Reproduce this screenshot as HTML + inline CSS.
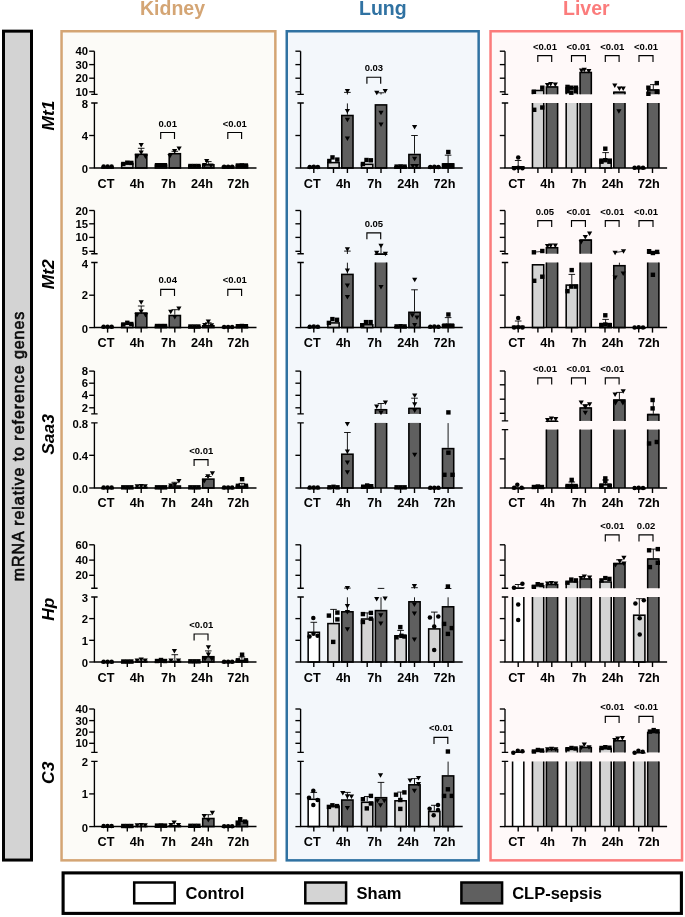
<!DOCTYPE html>
<html><head><meta charset="utf-8"><title>Figure</title>
<style>html,body{margin:0;padding:0;background:#fff}body{width:685px;height:917px;position:relative;overflow:hidden;font-family:'Liberation Sans', sans-serif}</style>
</head><body>
<svg width="685" height="917" viewBox="0 0 685 917" style="position:absolute;left:0;top:0;font-family:'Liberation Sans', sans-serif;font-weight:bold;will-change:transform;opacity:0.999">
<rect x="0" y="0" width="685" height="917" fill="#fff"/>
<rect x="3.5" y="31.15" width="28.0" height="828.9" fill="#D3D3D3" stroke="#000" stroke-width="3.0"/>
<text transform="translate(23.5,446) rotate(-90)" text-anchor="middle" font-size="16" font-weight="normal" letter-spacing="0.95" stroke="#0a0a0a" stroke-width="0.6" fill="#0a0a0a">mRNA relative to reference genes</text>
<rect x="63.1" y="872.9" width="618.3" height="40.5" fill="#fff" stroke="#000" stroke-width="3.1"/>
<rect x="134.2" y="882.5" width="40.5" height="20.8" fill="#fff" stroke="#000" stroke-width="2.5"/>
<text x="185.6" y="899.0" font-size="16.5" fill="#000">Control</text>
<rect x="305.3" y="882.5" width="40.80000000000001" height="20.8" fill="#D4D4D4" stroke="#000" stroke-width="2.5"/>
<text x="356.6" y="899.0" font-size="16.5" fill="#000">Sham</text>
<rect x="461.4" y="882.5" width="40.700000000000045" height="20.8" fill="#5F5F5F" stroke="#000" stroke-width="2.5"/>
<text x="512.2" y="899.0" font-size="16.5" fill="#000">CLP-sepsis</text>
<rect x="61.55" y="31.25" width="213.8" height="829.1" fill="#FCFBF7" stroke="#D4A574" stroke-width="2.5"/>
<text x="172.5" y="15.3" text-anchor="middle" font-size="19.5" fill="#D4A574">Kidney</text>
<g><rect x="101.98" y="167.4" width="11.25" height="0.6" fill="#FFFFFF" stroke="#000" stroke-width="1.55"/><rect x="121.68" y="163.5" width="11.25" height="4.5" fill="#D4D4D4" stroke="#000" stroke-width="1.55"/><rect x="135.58" y="154.3" width="11.25" height="13.7" fill="#5F5F5F" stroke="#000" stroke-width="1.55"/><rect x="155.38" y="165.1" width="11.25" height="2.9" fill="#D4D4D4" stroke="#000" stroke-width="1.55"/><rect x="169.18" y="153.7" width="11.25" height="14.3" fill="#5F5F5F" stroke="#000" stroke-width="1.55"/><rect x="188.78" y="165.6" width="11.25" height="2.4" fill="#D4D4D4" stroke="#000" stroke-width="1.55"/><rect x="202.68" y="164.8" width="11.25" height="3.2" fill="#5F5F5F" stroke="#000" stroke-width="1.55"/><rect x="222.47" y="166.6" width="11.25" height="1.4" fill="#D4D4D4" stroke="#000" stroke-width="1.55"/><rect x="236.28" y="165.4" width="11.25" height="2.6" fill="#5F5F5F" stroke="#000" stroke-width="1.55"/><path d="M141.2 153.5V148.3M137.9 148.3H144.5" stroke="#000" stroke-width="0.9" fill="none"/><path d="M174.8 152.9V151.3M171.5 151.3H178.1" stroke="#000" stroke-width="0.9" fill="none"/><path d="M208.3 164.0V161.6M205.0 161.6H211.6" stroke="#000" stroke-width="0.9" fill="none"/><circle cx="103.6" cy="166.6" r="2.25" fill="#000"/><circle cx="107.6" cy="166.6" r="2.25" fill="#000"/><circle cx="111.6" cy="166.6" r="2.25" fill="#000"/><rect x="121.1" y="161.8" width="4.4" height="4.4" fill="#000"/><rect x="125.1" y="160.5" width="4.4" height="4.4" fill="#000"/><rect x="129.1" y="160.7" width="4.4" height="4.4" fill="#000"/><path d="M138.6 143.0H143.8L141.2 147.5Z" fill="#000"/><path d="M134.4 154.5H139.6L137.0 159.0Z" fill="#000"/><path d="M142.9 154.5H148.1L145.5 159.0Z" fill="#000"/><path d="M138.6 150.5H143.8L141.2 155.0Z" fill="#000"/><rect x="154.8" y="163.0" width="4.4" height="4.4" fill="#000"/><rect x="158.8" y="163.0" width="4.4" height="4.4" fill="#000"/><rect x="162.8" y="163.0" width="4.4" height="4.4" fill="#000"/><path d="M172.0 148.9H177.2L174.6 153.4Z" fill="#000"/><path d="M176.5 146.6H181.7L179.1 151.1Z" fill="#000"/><path d="M167.4 154.0H172.6L170.0 158.5Z" fill="#000"/><rect x="188.2" y="163.8" width="4.4" height="4.4" fill="#000"/><rect x="192.2" y="163.8" width="4.4" height="4.4" fill="#000"/><rect x="196.2" y="163.8" width="4.4" height="4.4" fill="#000"/><path d="M204.1 159.0H209.3L206.7 163.5Z" fill="#000"/><path d="M201.9 163.0H207.1L204.5 167.5Z" fill="#000"/><path d="M208.4 163.5H213.6L211.0 168.0Z" fill="#000"/><circle cx="224.1" cy="166.8" r="2.25" fill="#000"/><circle cx="228.1" cy="166.8" r="2.25" fill="#000"/><circle cx="232.1" cy="166.8" r="2.25" fill="#000"/><rect x="235.7" y="163.3" width="4.4" height="4.4" fill="#000"/><rect x="239.7" y="163.1" width="4.4" height="4.4" fill="#000"/><rect x="243.7" y="163.3" width="4.4" height="4.4" fill="#000"/><path d="M94.4 51.2V94.3M91.2 94.3H97.6" stroke="#000" stroke-width="1.35" fill="none"/><path d="M94.4 103.0V168.0M91.2 103.0H97.6" stroke="#000" stroke-width="1.35" fill="none"/><path d="M89.2 51.2H94.4" stroke="#000" stroke-width="1.35"/><text x="88.1" y="55.2" text-anchor="end" font-size="11.3" fill="#000">40</text><path d="M89.2 64.6H94.4" stroke="#000" stroke-width="1.35"/><text x="88.1" y="68.6" text-anchor="end" font-size="11.3" fill="#000">30</text><path d="M89.2 78.2H94.4" stroke="#000" stroke-width="1.35"/><text x="88.1" y="82.2" text-anchor="end" font-size="11.3" fill="#000">20</text><path d="M89.2 91.8H94.4" stroke="#000" stroke-width="1.35"/><text x="88.1" y="95.8" text-anchor="end" font-size="11.3" fill="#000">10</text><text x="88.1" y="108.0" text-anchor="end" font-size="11.3" fill="#000">8</text><path d="M89.2 135.5H94.4" stroke="#000" stroke-width="1.35"/><text x="88.1" y="139.7" text-anchor="end" font-size="11.3" fill="#000">4</text><path d="M89.2 168.0H94.4" stroke="#000" stroke-width="1.35"/><text x="88.1" y="173.0" text-anchor="end" font-size="11.3" fill="#000">0</text><path d="M93.9 168.0H256.5" stroke="#000" stroke-width="1.5"/><text x="106.0" y="187.9" text-anchor="middle" font-size="12.7" fill="#000">CT</text><text x="137.1" y="187.9" text-anchor="middle" font-size="12.7" fill="#000">4h</text><text x="168.5" y="187.9" text-anchor="middle" font-size="12.7" fill="#000">7h</text><text x="202.0" y="187.9" text-anchor="middle" font-size="12.7" fill="#000">24h</text><text x="238.3" y="187.9" text-anchor="middle" font-size="12.7" fill="#000">72h</text><path d="M160.7 139.0V132.5H174.5V139.0" stroke="#000" stroke-width="1.15" fill="none"/><text x="167.7" y="126.5" text-anchor="middle" font-size="9.5" fill="#000">0.01</text><path d="M227.8 139.0V132.5H241.6V139.0" stroke="#000" stroke-width="1.15" fill="none"/><text x="234.8" y="126.5" text-anchor="middle" font-size="9.5" fill="#000">&lt;0.01</text></g>
<g><rect x="101.98" y="327.3" width="11.25" height="0.3" fill="#FFFFFF" stroke="#000" stroke-width="1.55"/><rect x="121.68" y="324.1" width="11.25" height="3.5" fill="#D4D4D4" stroke="#000" stroke-width="1.55"/><rect x="135.58" y="313.0" width="11.25" height="14.6" fill="#5F5F5F" stroke="#000" stroke-width="1.55"/><rect x="155.38" y="326.4" width="11.25" height="1.2" fill="#D4D4D4" stroke="#000" stroke-width="1.55"/><rect x="169.18" y="315.5" width="11.25" height="12.1" fill="#5F5F5F" stroke="#000" stroke-width="1.55"/><rect x="188.78" y="326.8" width="11.25" height="0.8" fill="#D4D4D4" stroke="#000" stroke-width="1.55"/><rect x="202.68" y="325.8" width="11.25" height="1.8" fill="#5F5F5F" stroke="#000" stroke-width="1.55"/><rect x="222.47" y="327.3" width="11.25" height="0.3" fill="#D4D4D4" stroke="#000" stroke-width="1.55"/><rect x="236.28" y="326.8" width="11.25" height="0.8" fill="#5F5F5F" stroke="#000" stroke-width="1.55"/><path d="M141.2 312.2V306.0M137.9 306.0H144.5" stroke="#000" stroke-width="0.9" fill="none"/><path d="M174.8 314.7V309.7M171.5 309.7H178.1" stroke="#000" stroke-width="0.9" fill="none"/><path d="M208.3 325.0V322.8M205.0 322.8H211.6" stroke="#000" stroke-width="0.9" fill="none"/><circle cx="103.6" cy="326.7" r="2.25" fill="#000"/><circle cx="107.6" cy="326.7" r="2.25" fill="#000"/><circle cx="111.6" cy="326.7" r="2.25" fill="#000"/><rect x="121.1" y="322.3" width="4.4" height="4.4" fill="#000"/><rect x="125.1" y="320.6" width="4.4" height="4.4" fill="#000"/><rect x="129.1" y="321.8" width="4.4" height="4.4" fill="#000"/><path d="M138.6 300.3H143.8L141.2 304.8Z" fill="#000"/><path d="M134.4 313.0H139.6L137.0 317.5Z" fill="#000"/><path d="M142.9 313.0H148.1L145.5 317.5Z" fill="#000"/><path d="M138.6 309.5H143.8L141.2 314.0Z" fill="#000"/><rect x="154.8" y="323.8" width="4.4" height="4.4" fill="#000"/><rect x="158.8" y="323.8" width="4.4" height="4.4" fill="#000"/><rect x="162.8" y="323.8" width="4.4" height="4.4" fill="#000"/><path d="M168.1 309.7H173.3L170.7 314.2Z" fill="#000"/><path d="M176.3 306.5H181.5L178.9 311.0Z" fill="#000"/><path d="M172.2 315.0H177.4L174.8 319.5Z" fill="#000"/><rect x="188.2" y="324.3" width="4.4" height="4.4" fill="#000"/><rect x="192.2" y="324.3" width="4.4" height="4.4" fill="#000"/><rect x="196.2" y="324.3" width="4.4" height="4.4" fill="#000"/><path d="M205.7 319.6H210.9L208.3 324.1Z" fill="#000"/><path d="M202.2 323.0H207.4L204.8 327.5Z" fill="#000"/><path d="M208.9 323.3H214.1L211.5 327.8Z" fill="#000"/><circle cx="224.1" cy="327.0" r="2.25" fill="#000"/><circle cx="228.1" cy="327.0" r="2.25" fill="#000"/><circle cx="232.1" cy="327.0" r="2.25" fill="#000"/><rect x="235.7" y="324.0" width="4.4" height="4.4" fill="#000"/><rect x="239.7" y="323.8" width="4.4" height="4.4" fill="#000"/><rect x="243.7" y="324.0" width="4.4" height="4.4" fill="#000"/><path d="M94.4 210.5V253.7M91.2 253.7H97.6" stroke="#000" stroke-width="1.35" fill="none"/><path d="M94.4 262.5V327.6M91.2 262.5H97.6" stroke="#000" stroke-width="1.35" fill="none"/><path d="M89.2 210.5H94.4" stroke="#000" stroke-width="1.35"/><text x="88.1" y="214.5" text-anchor="end" font-size="11.3" fill="#000">20</text><path d="M89.2 223.8H94.4" stroke="#000" stroke-width="1.35"/><text x="88.1" y="227.8" text-anchor="end" font-size="11.3" fill="#000">15</text><path d="M89.2 237.4H94.4" stroke="#000" stroke-width="1.35"/><text x="88.1" y="241.4" text-anchor="end" font-size="11.3" fill="#000">10</text><path d="M89.2 251.3H94.4" stroke="#000" stroke-width="1.35"/><text x="88.1" y="255.3" text-anchor="end" font-size="11.3" fill="#000">5</text><text x="88.1" y="267.5" text-anchor="end" font-size="11.3" fill="#000">4</text><path d="M89.2 295.2H94.4" stroke="#000" stroke-width="1.35"/><text x="88.1" y="299.4" text-anchor="end" font-size="11.3" fill="#000">2</text><path d="M89.2 327.6H94.4" stroke="#000" stroke-width="1.35"/><text x="88.1" y="332.6" text-anchor="end" font-size="11.3" fill="#000">0</text><path d="M93.9 327.6H256.5" stroke="#000" stroke-width="1.5"/><path d="M107.6 327.6v5.0" stroke="#000" stroke-width="1.4"/><path d="M127.3 327.6v5.0" stroke="#000" stroke-width="1.4"/><path d="M141.2 327.6v5.0" stroke="#000" stroke-width="1.4"/><path d="M161.0 327.6v5.0" stroke="#000" stroke-width="1.4"/><path d="M174.8 327.6v5.0" stroke="#000" stroke-width="1.4"/><path d="M194.4 327.6v5.0" stroke="#000" stroke-width="1.4"/><path d="M208.3 327.6v5.0" stroke="#000" stroke-width="1.4"/><path d="M228.1 327.6v5.0" stroke="#000" stroke-width="1.4"/><path d="M241.9 327.6v5.0" stroke="#000" stroke-width="1.4"/><text x="106.0" y="347.4" text-anchor="middle" font-size="12.7" fill="#000">CT</text><text x="137.1" y="347.4" text-anchor="middle" font-size="12.7" fill="#000">4h</text><text x="168.5" y="347.4" text-anchor="middle" font-size="12.7" fill="#000">7h</text><text x="202.0" y="347.4" text-anchor="middle" font-size="12.7" fill="#000">24h</text><text x="238.3" y="347.4" text-anchor="middle" font-size="12.7" fill="#000">72h</text><path d="M160.7 295.9V289.4H174.5V295.9" stroke="#000" stroke-width="1.15" fill="none"/><text x="167.7" y="283.4" text-anchor="middle" font-size="9.5" fill="#000">0.04</text><path d="M227.8 295.9V289.4H241.6V295.9" stroke="#000" stroke-width="1.15" fill="none"/><text x="234.8" y="283.4" text-anchor="middle" font-size="9.5" fill="#000">&lt;0.01</text></g>
<g><rect x="101.98" y="488.3" width="11.25" height="0.3" fill="#FFFFFF" stroke="#000" stroke-width="1.55"/><rect x="121.68" y="488.1" width="11.25" height="0.3" fill="#D4D4D4" stroke="#000" stroke-width="1.55"/><rect x="135.58" y="487.3" width="11.25" height="0.7" fill="#5F5F5F" stroke="#000" stroke-width="1.55"/><rect x="155.38" y="488.1" width="11.25" height="0.3" fill="#D4D4D4" stroke="#000" stroke-width="1.55"/><rect x="169.18" y="486.0" width="11.25" height="2.0" fill="#5F5F5F" stroke="#000" stroke-width="1.55"/><rect x="188.78" y="488.1" width="11.25" height="0.3" fill="#D4D4D4" stroke="#000" stroke-width="1.55"/><rect x="202.68" y="479.1" width="11.25" height="8.9" fill="#5F5F5F" stroke="#000" stroke-width="1.55"/><rect x="222.47" y="488.3" width="11.25" height="0.3" fill="#D4D4D4" stroke="#000" stroke-width="1.55"/><rect x="236.28" y="486.3" width="11.25" height="1.7" fill="#5F5F5F" stroke="#000" stroke-width="1.55"/><path d="M174.8 485.2V482.3M171.5 482.3H178.1" stroke="#000" stroke-width="0.9" fill="none"/><path d="M208.3 478.3V476.5M205.0 476.5H211.6" stroke="#000" stroke-width="0.9" fill="none"/><path d="M241.9 485.5V483.4M238.6 483.4H245.2" stroke="#000" stroke-width="0.9" fill="none"/><circle cx="103.6" cy="487.4" r="2.25" fill="#000"/><circle cx="107.6" cy="487.4" r="2.25" fill="#000"/><circle cx="111.6" cy="487.4" r="2.25" fill="#000"/><rect x="121.1" y="485.1" width="4.4" height="4.4" fill="#000"/><rect x="125.1" y="485.1" width="4.4" height="4.4" fill="#000"/><rect x="129.1" y="485.1" width="4.4" height="4.4" fill="#000"/><path d="M134.6 484.3H139.8L137.2 488.8Z" fill="#000"/><path d="M138.6 484.0H143.8L141.2 488.5Z" fill="#000"/><path d="M142.6 484.3H147.8L145.2 488.8Z" fill="#000"/><rect x="154.8" y="485.1" width="4.4" height="4.4" fill="#000"/><rect x="158.8" y="485.1" width="4.4" height="4.4" fill="#000"/><rect x="162.8" y="485.1" width="4.4" height="4.4" fill="#000"/><path d="M168.2 483.5H173.4L170.8 488.0Z" fill="#000"/><path d="M172.2 483.0H177.4L174.8 487.5Z" fill="#000"/><path d="M176.3 478.9H181.5L178.9 483.4Z" fill="#000"/><rect x="188.2" y="485.1" width="4.4" height="4.4" fill="#000"/><rect x="192.2" y="485.1" width="4.4" height="4.4" fill="#000"/><rect x="196.2" y="485.1" width="4.4" height="4.4" fill="#000"/><path d="M205.3 474.3H210.5L207.9 478.8Z" fill="#000"/><path d="M209.8 471.2H215.0L212.4 475.7Z" fill="#000"/><path d="M201.7 479.0H206.9L204.3 483.5Z" fill="#000"/><circle cx="224.1" cy="487.4" r="2.25" fill="#000"/><circle cx="228.1" cy="487.4" r="2.25" fill="#000"/><circle cx="232.1" cy="487.4" r="2.25" fill="#000"/><rect x="235.7" y="483.6" width="4.4" height="4.4" fill="#000"/><rect x="243.7" y="483.6" width="4.4" height="4.4" fill="#000"/><rect x="239.9" y="477.0" width="4.4" height="4.4" fill="#000"/><path d="M94.4 371.1V413.9M91.2 413.9H97.6" stroke="#000" stroke-width="1.35" fill="none"/><path d="M94.4 422.9V488.0M91.2 422.9H97.6" stroke="#000" stroke-width="1.35" fill="none"/><path d="M89.2 371.1H94.4" stroke="#000" stroke-width="1.35"/><text x="88.1" y="375.1" text-anchor="end" font-size="11.3" fill="#000">8</text><path d="M89.2 383.2H94.4" stroke="#000" stroke-width="1.35"/><text x="88.1" y="387.2" text-anchor="end" font-size="11.3" fill="#000">6</text><path d="M89.2 395.3H94.4" stroke="#000" stroke-width="1.35"/><text x="88.1" y="399.3" text-anchor="end" font-size="11.3" fill="#000">4</text><path d="M89.2 407.8H94.4" stroke="#000" stroke-width="1.35"/><text x="88.1" y="411.8" text-anchor="end" font-size="11.3" fill="#000">2</text><text x="88.1" y="427.9" text-anchor="end" font-size="11.3" fill="#000">0.8</text><path d="M89.2 455.3H94.4" stroke="#000" stroke-width="1.35"/><text x="88.1" y="459.5" text-anchor="end" font-size="11.3" fill="#000">0.4</text><path d="M89.2 488.0H94.4" stroke="#000" stroke-width="1.35"/><text x="88.1" y="493.0" text-anchor="end" font-size="11.3" fill="#000">0.0</text><path d="M93.9 488.0H256.5" stroke="#000" stroke-width="1.5"/><path d="M107.6 488.0v5.0" stroke="#000" stroke-width="1.4"/><path d="M127.3 488.0v5.0" stroke="#000" stroke-width="1.4"/><path d="M141.2 488.0v5.0" stroke="#000" stroke-width="1.4"/><path d="M161.0 488.0v5.0" stroke="#000" stroke-width="1.4"/><path d="M174.8 488.0v5.0" stroke="#000" stroke-width="1.4"/><path d="M194.4 488.0v5.0" stroke="#000" stroke-width="1.4"/><path d="M208.3 488.0v5.0" stroke="#000" stroke-width="1.4"/><path d="M228.1 488.0v5.0" stroke="#000" stroke-width="1.4"/><path d="M241.9 488.0v5.0" stroke="#000" stroke-width="1.4"/><text x="106.0" y="507.4" text-anchor="middle" font-size="12.7" fill="#000">CT</text><text x="137.1" y="507.4" text-anchor="middle" font-size="12.7" fill="#000">4h</text><text x="168.5" y="507.4" text-anchor="middle" font-size="12.7" fill="#000">7h</text><text x="202.0" y="507.4" text-anchor="middle" font-size="12.7" fill="#000">24h</text><text x="238.3" y="507.4" text-anchor="middle" font-size="12.7" fill="#000">72h</text><path d="M194.1 466.1V459.6H208.0V466.1" stroke="#000" stroke-width="1.15" fill="none"/><text x="201.2" y="453.6" text-anchor="middle" font-size="9.5" fill="#000">&lt;0.01</text></g>
<g><rect x="101.98" y="662.3" width="11.25" height="0.3" fill="#FFFFFF" stroke="#000" stroke-width="1.55"/><rect x="121.68" y="662.3" width="11.25" height="0.3" fill="#D4D4D4" stroke="#000" stroke-width="1.55"/><rect x="135.58" y="661.3" width="11.25" height="0.7" fill="#5F5F5F" stroke="#000" stroke-width="1.55"/><rect x="155.38" y="661.8" width="11.25" height="0.3" fill="#D4D4D4" stroke="#000" stroke-width="1.55"/><rect x="169.18" y="661.3" width="11.25" height="0.7" fill="#5F5F5F" stroke="#000" stroke-width="1.55"/><rect x="188.78" y="662.1" width="11.25" height="0.3" fill="#D4D4D4" stroke="#000" stroke-width="1.55"/><rect x="202.68" y="656.7" width="11.25" height="5.3" fill="#5F5F5F" stroke="#000" stroke-width="1.55"/><rect x="222.47" y="662.3" width="11.25" height="0.3" fill="#D4D4D4" stroke="#000" stroke-width="1.55"/><rect x="236.28" y="660.4" width="11.25" height="1.6" fill="#5F5F5F" stroke="#000" stroke-width="1.55"/><path d="M174.8 660.5V654.7M171.5 654.7H178.1" stroke="#000" stroke-width="0.9" fill="none"/><path d="M208.3 655.9V650.9M205.0 650.9H211.6" stroke="#000" stroke-width="0.9" fill="none"/><path d="M241.9 659.6V657.0M238.6 657.0H245.2" stroke="#000" stroke-width="0.9" fill="none"/><circle cx="103.6" cy="661.7" r="2.25" fill="#000"/><circle cx="107.6" cy="661.7" r="2.25" fill="#000"/><circle cx="111.6" cy="661.7" r="2.25" fill="#000"/><rect x="121.1" y="659.3" width="4.4" height="4.4" fill="#000"/><rect x="125.1" y="659.3" width="4.4" height="4.4" fill="#000"/><rect x="129.1" y="659.3" width="4.4" height="4.4" fill="#000"/><path d="M134.6 658.5H139.8L137.2 663.0Z" fill="#000"/><path d="M138.6 657.6H143.8L141.2 662.1Z" fill="#000"/><path d="M142.6 658.5H147.8L145.2 663.0Z" fill="#000"/><rect x="154.8" y="658.8" width="4.4" height="4.4" fill="#000"/><rect x="158.8" y="657.8" width="4.4" height="4.4" fill="#000"/><rect x="162.8" y="658.8" width="4.4" height="4.4" fill="#000"/><path d="M171.8 649.0H177.0L174.4 653.5Z" fill="#000"/><path d="M168.4 658.5H173.6L171.0 663.0Z" fill="#000"/><path d="M175.9 658.5H181.1L178.5 663.0Z" fill="#000"/><rect x="188.2" y="659.1" width="4.4" height="4.4" fill="#000"/><rect x="192.2" y="659.1" width="4.4" height="4.4" fill="#000"/><rect x="196.2" y="659.1" width="4.4" height="4.4" fill="#000"/><path d="M205.8 645.2H211.0L208.4 649.7Z" fill="#000"/><path d="M205.8 652.5H211.0L208.4 657.0Z" fill="#000"/><path d="M202.4 657.0H207.6L205.0 661.5Z" fill="#000"/><path d="M209.2 657.0H214.4L211.8 661.5Z" fill="#000"/><circle cx="224.1" cy="661.7" r="2.25" fill="#000"/><circle cx="228.1" cy="661.7" r="2.25" fill="#000"/><circle cx="232.1" cy="661.7" r="2.25" fill="#000"/><rect x="235.7" y="658.1" width="4.4" height="4.4" fill="#000"/><rect x="243.7" y="658.1" width="4.4" height="4.4" fill="#000"/><rect x="239.9" y="652.5" width="4.4" height="4.4" fill="#000"/><path d="M94.4 544.8V588.2M91.2 588.2H97.6" stroke="#000" stroke-width="1.35" fill="none"/><path d="M94.4 597.0V662.0M91.2 597.0H97.6" stroke="#000" stroke-width="1.35" fill="none"/><path d="M89.2 544.8H94.4" stroke="#000" stroke-width="1.35"/><text x="88.1" y="548.8" text-anchor="end" font-size="11.3" fill="#000">60</text><path d="M89.2 560.1H94.4" stroke="#000" stroke-width="1.35"/><text x="88.1" y="564.1" text-anchor="end" font-size="11.3" fill="#000">40</text><path d="M89.2 575.3H94.4" stroke="#000" stroke-width="1.35"/><text x="88.1" y="579.3" text-anchor="end" font-size="11.3" fill="#000">20</text><text x="88.1" y="602.0" text-anchor="end" font-size="11.3" fill="#000">3</text><path d="M89.2 618.6H94.4" stroke="#000" stroke-width="1.35"/><text x="88.1" y="622.8" text-anchor="end" font-size="11.3" fill="#000">2</text><path d="M89.2 640.3H94.4" stroke="#000" stroke-width="1.35"/><text x="88.1" y="644.5" text-anchor="end" font-size="11.3" fill="#000">1</text><path d="M89.2 662.0H94.4" stroke="#000" stroke-width="1.35"/><text x="88.1" y="667.0" text-anchor="end" font-size="11.3" fill="#000">0</text><path d="M93.9 662.0H256.5" stroke="#000" stroke-width="1.5"/><path d="M107.6 662.0v5.0" stroke="#000" stroke-width="1.4"/><path d="M127.3 662.0v5.0" stroke="#000" stroke-width="1.4"/><path d="M141.2 662.0v5.0" stroke="#000" stroke-width="1.4"/><path d="M161.0 662.0v5.0" stroke="#000" stroke-width="1.4"/><path d="M174.8 662.0v5.0" stroke="#000" stroke-width="1.4"/><path d="M194.4 662.0v5.0" stroke="#000" stroke-width="1.4"/><path d="M208.3 662.0v5.0" stroke="#000" stroke-width="1.4"/><path d="M228.1 662.0v5.0" stroke="#000" stroke-width="1.4"/><path d="M241.9 662.0v5.0" stroke="#000" stroke-width="1.4"/><text x="106.0" y="682.4" text-anchor="middle" font-size="12.7" fill="#000">CT</text><text x="137.1" y="682.4" text-anchor="middle" font-size="12.7" fill="#000">4h</text><text x="168.5" y="682.4" text-anchor="middle" font-size="12.7" fill="#000">7h</text><text x="202.0" y="682.4" text-anchor="middle" font-size="12.7" fill="#000">24h</text><text x="238.3" y="682.4" text-anchor="middle" font-size="12.7" fill="#000">72h</text><path d="M194.1 640.5V634.0H208.0V640.5" stroke="#000" stroke-width="1.15" fill="none"/><text x="201.2" y="628.0" text-anchor="middle" font-size="9.5" fill="#000">&lt;0.01</text></g>
<g><rect x="101.98" y="826.8" width="11.25" height="0.3" fill="#FFFFFF" stroke="#000" stroke-width="1.55"/><rect x="121.68" y="826.8" width="11.25" height="0.3" fill="#D4D4D4" stroke="#000" stroke-width="1.55"/><rect x="135.58" y="826.3" width="11.25" height="0.3" fill="#5F5F5F" stroke="#000" stroke-width="1.55"/><rect x="155.38" y="826.6" width="11.25" height="0.3" fill="#D4D4D4" stroke="#000" stroke-width="1.55"/><rect x="169.18" y="825.8" width="11.25" height="0.8" fill="#5F5F5F" stroke="#000" stroke-width="1.55"/><rect x="188.78" y="826.6" width="11.25" height="0.3" fill="#D4D4D4" stroke="#000" stroke-width="1.55"/><rect x="202.68" y="818.5" width="11.25" height="8.1" fill="#5F5F5F" stroke="#000" stroke-width="1.55"/><rect x="222.47" y="826.8" width="11.25" height="0.3" fill="#D4D4D4" stroke="#000" stroke-width="1.55"/><rect x="236.28" y="821.2" width="11.25" height="5.4" fill="#5F5F5F" stroke="#000" stroke-width="1.55"/><path d="M208.3 817.7V814.7M205.0 814.7H211.6" stroke="#000" stroke-width="0.9" fill="none"/><circle cx="103.6" cy="826.1" r="2.25" fill="#000"/><circle cx="107.6" cy="826.1" r="2.25" fill="#000"/><circle cx="111.6" cy="826.1" r="2.25" fill="#000"/><rect x="121.1" y="823.8" width="4.4" height="4.4" fill="#000"/><rect x="125.1" y="823.8" width="4.4" height="4.4" fill="#000"/><rect x="129.1" y="823.8" width="4.4" height="4.4" fill="#000"/><path d="M134.6 823.3H139.8L137.2 827.8Z" fill="#000"/><path d="M138.6 823.0H143.8L141.2 827.5Z" fill="#000"/><path d="M142.6 823.3H147.8L145.2 827.8Z" fill="#000"/><rect x="154.8" y="823.4" width="4.4" height="4.4" fill="#000"/><rect x="158.8" y="823.2" width="4.4" height="4.4" fill="#000"/><rect x="162.8" y="823.4" width="4.4" height="4.4" fill="#000"/><path d="M171.5 820.6H176.7L174.1 825.1Z" fill="#000"/><path d="M168.4 823.0H173.6L171.0 827.5Z" fill="#000"/><path d="M175.9 823.0H181.1L178.5 827.5Z" fill="#000"/><rect x="188.2" y="823.6" width="4.4" height="4.4" fill="#000"/><rect x="192.2" y="823.6" width="4.4" height="4.4" fill="#000"/><rect x="196.2" y="823.6" width="4.4" height="4.4" fill="#000"/><path d="M201.6 814.0H206.8L204.2 818.5Z" fill="#000"/><path d="M209.8 810.7H215.0L212.4 815.2Z" fill="#000"/><path d="M205.7 818.0H210.9L208.3 822.5Z" fill="#000"/><circle cx="224.1" cy="826.2" r="2.25" fill="#000"/><circle cx="228.1" cy="826.2" r="2.25" fill="#000"/><circle cx="232.1" cy="826.2" r="2.25" fill="#000"/><rect x="238.0" y="817.0" width="4.4" height="4.4" fill="#000"/><rect x="242.8" y="819.4" width="4.4" height="4.4" fill="#000"/><rect x="236.3" y="821.3" width="4.4" height="4.4" fill="#000"/><path d="M94.4 709.0V752.4M91.2 752.4H97.6" stroke="#000" stroke-width="1.35" fill="none"/><path d="M94.4 761.4V826.6M91.2 761.4H97.6" stroke="#000" stroke-width="1.35" fill="none"/><path d="M89.2 709.0H94.4" stroke="#000" stroke-width="1.35"/><text x="88.1" y="713.0" text-anchor="end" font-size="11.3" fill="#000">40</text><path d="M89.2 720.6H94.4" stroke="#000" stroke-width="1.35"/><text x="88.1" y="724.6" text-anchor="end" font-size="11.3" fill="#000">30</text><path d="M89.2 732.1H94.4" stroke="#000" stroke-width="1.35"/><text x="88.1" y="736.1" text-anchor="end" font-size="11.3" fill="#000">20</text><path d="M89.2 743.3H94.4" stroke="#000" stroke-width="1.35"/><text x="88.1" y="747.3" text-anchor="end" font-size="11.3" fill="#000">10</text><text x="88.1" y="766.4" text-anchor="end" font-size="11.3" fill="#000">2</text><path d="M89.2 793.9H94.4" stroke="#000" stroke-width="1.35"/><text x="88.1" y="798.1" text-anchor="end" font-size="11.3" fill="#000">1</text><path d="M89.2 826.6H94.4" stroke="#000" stroke-width="1.35"/><text x="88.1" y="831.6" text-anchor="end" font-size="11.3" fill="#000">0</text><path d="M93.9 826.6H256.5" stroke="#000" stroke-width="1.5"/><path d="M107.6 826.6v5.0" stroke="#000" stroke-width="1.4"/><path d="M127.3 826.6v5.0" stroke="#000" stroke-width="1.4"/><path d="M141.2 826.6v5.0" stroke="#000" stroke-width="1.4"/><path d="M161.0 826.6v5.0" stroke="#000" stroke-width="1.4"/><path d="M174.8 826.6v5.0" stroke="#000" stroke-width="1.4"/><path d="M194.4 826.6v5.0" stroke="#000" stroke-width="1.4"/><path d="M208.3 826.6v5.0" stroke="#000" stroke-width="1.4"/><path d="M228.1 826.6v5.0" stroke="#000" stroke-width="1.4"/><path d="M241.9 826.6v5.0" stroke="#000" stroke-width="1.4"/><text x="106.0" y="846.1" text-anchor="middle" font-size="12.7" fill="#000">CT</text><text x="137.1" y="846.1" text-anchor="middle" font-size="12.7" fill="#000">4h</text><text x="168.5" y="846.1" text-anchor="middle" font-size="12.7" fill="#000">7h</text><text x="202.0" y="846.1" text-anchor="middle" font-size="12.7" fill="#000">24h</text><text x="238.3" y="846.1" text-anchor="middle" font-size="12.7" fill="#000">72h</text></g>
<rect x="286.75" y="31.25" width="191.89999999999998" height="829.1" fill="#F3F7FB" stroke="#3072A2" stroke-width="2.5"/>
<text x="382.8" y="15.3" text-anchor="middle" font-size="19.5" fill="#3072A2">Lung</text>
<g><rect x="308.17" y="167.4" width="11.25" height="0.6" fill="#FFFFFF" stroke="#000" stroke-width="1.55"/><rect x="327.88" y="162.6" width="11.25" height="5.4" fill="#D4D4D4" stroke="#000" stroke-width="1.55"/><rect x="341.77" y="115.5" width="11.25" height="52.5" fill="#5F5F5F" stroke="#000" stroke-width="1.55"/><rect x="361.57" y="164.3" width="11.25" height="3.7" fill="#D4D4D4" stroke="#000" stroke-width="1.55"/><rect x="375.38" y="104.9" width="11.25" height="63.1" fill="#5F5F5F" stroke="#000" stroke-width="1.55"/><rect x="394.97" y="166.8" width="11.25" height="1.2" fill="#D4D4D4" stroke="#000" stroke-width="1.55"/><rect x="408.88" y="154.5" width="11.25" height="13.5" fill="#5F5F5F" stroke="#000" stroke-width="1.55"/><rect x="428.67" y="167.1" width="11.25" height="0.9" fill="#D4D4D4" stroke="#000" stroke-width="1.55"/><rect x="442.47" y="164.0" width="11.25" height="4.0" fill="#5F5F5F" stroke="#000" stroke-width="1.55"/><path d="M347.4 114.7V103.4" stroke="#000" stroke-width="0.9" fill="none"/><path d="M347.4 94.5V92.4M344.1 92.4H350.7" stroke="#000" stroke-width="0.9" fill="none"/><path d="M381.0 94.5V92.8M377.7 92.8H384.3" stroke="#000" stroke-width="0.9" fill="none"/><path d="M414.5 153.7V135.5M411.2 135.5H417.8" stroke="#000" stroke-width="0.9" fill="none"/><path d="M448.1 163.2V155.2M444.8 155.2H451.4" stroke="#000" stroke-width="0.9" fill="none"/><circle cx="309.8" cy="166.9" r="2.25" fill="#000"/><circle cx="313.8" cy="166.7" r="2.25" fill="#000"/><circle cx="317.8" cy="166.9" r="2.25" fill="#000"/><rect x="327.1" y="158.8" width="4.4" height="4.4" fill="#000"/><rect x="330.3" y="155.2" width="4.4" height="4.4" fill="#000"/><rect x="335.1" y="157.4" width="4.4" height="4.4" fill="#000"/><path d="M344.8 109.1H350.0L347.4 113.6Z" fill="#000"/><path d="M344.8 88.9H350.0L347.4 93.4Z" fill="#000"/><path d="M344.8 117.7H350.0L347.4 122.2Z" fill="#000"/><path d="M344.8 136.4H350.0L347.4 140.9Z" fill="#000"/><rect x="360.7" y="161.8" width="4.4" height="4.4" fill="#000"/><rect x="364.3" y="157.8" width="4.4" height="4.4" fill="#000"/><rect x="368.7" y="158.1" width="4.4" height="4.4" fill="#000"/><path d="M374.2 90.8H379.4L376.8 95.3Z" fill="#000"/><path d="M382.6 88.9H387.8L385.2 93.4Z" fill="#000"/><path d="M378.4 110.8H383.6L381.0 115.3Z" fill="#000"/><path d="M378.4 122.5H383.6L381.0 127.0Z" fill="#000"/><rect x="394.4" y="164.4" width="4.4" height="4.4" fill="#000"/><rect x="398.4" y="164.2" width="4.4" height="4.4" fill="#000"/><rect x="402.4" y="164.4" width="4.4" height="4.4" fill="#000"/><path d="M412.0 125.0H417.2L414.6 129.5Z" fill="#000"/><path d="M412.0 156.8H417.2L414.6 161.3Z" fill="#000"/><path d="M410.2 164.0H415.4L412.8 168.5Z" fill="#000"/><path d="M413.9 164.0H419.1L416.5 168.5Z" fill="#000"/><circle cx="430.3" cy="166.9" r="2.25" fill="#000"/><circle cx="434.3" cy="166.7" r="2.25" fill="#000"/><circle cx="438.3" cy="166.9" r="2.25" fill="#000"/><rect x="446.1" y="149.8" width="4.4" height="4.4" fill="#000"/><rect x="442.3" y="163.1" width="4.4" height="4.4" fill="#000"/><rect x="445.9" y="163.1" width="4.4" height="4.4" fill="#000"/><rect x="449.8" y="163.1" width="4.4" height="4.4" fill="#000"/><path d="M300.6 51.2V94.3M297.4 94.3H303.8" stroke="#000" stroke-width="1.35" fill="none"/><path d="M300.6 103.0V168.0M297.4 103.0H303.8" stroke="#000" stroke-width="1.35" fill="none"/><path d="M295.4 51.2H300.6" stroke="#000" stroke-width="1.35"/><path d="M295.4 64.6H300.6" stroke="#000" stroke-width="1.35"/><path d="M295.4 78.2H300.6" stroke="#000" stroke-width="1.35"/><path d="M295.4 91.8H300.6" stroke="#000" stroke-width="1.35"/><path d="M295.4 135.5H300.6" stroke="#000" stroke-width="1.35"/><path d="M295.4 168.0H300.6" stroke="#000" stroke-width="1.35"/><path d="M300.1 168.0H462.7" stroke="#000" stroke-width="1.5"/><path d="M313.8 168.0v5.0" stroke="#000" stroke-width="1.4"/><path d="M333.5 168.0v5.0" stroke="#000" stroke-width="1.4"/><path d="M347.4 168.0v5.0" stroke="#000" stroke-width="1.4"/><path d="M367.2 168.0v5.0" stroke="#000" stroke-width="1.4"/><path d="M381.0 168.0v5.0" stroke="#000" stroke-width="1.4"/><path d="M400.6 168.0v5.0" stroke="#000" stroke-width="1.4"/><path d="M414.5 168.0v5.0" stroke="#000" stroke-width="1.4"/><path d="M434.3 168.0v5.0" stroke="#000" stroke-width="1.4"/><path d="M448.1 168.0v5.0" stroke="#000" stroke-width="1.4"/><text x="312.2" y="187.9" text-anchor="middle" font-size="12.7" fill="#000">CT</text><text x="343.3" y="187.9" text-anchor="middle" font-size="12.7" fill="#000">4h</text><text x="374.7" y="187.9" text-anchor="middle" font-size="12.7" fill="#000">7h</text><text x="408.2" y="187.9" text-anchor="middle" font-size="12.7" fill="#000">24h</text><text x="444.5" y="187.9" text-anchor="middle" font-size="12.7" fill="#000">72h</text><path d="M366.9 83.7V77.2H380.7V83.7" stroke="#000" stroke-width="1.15" fill="none"/><text x="373.9" y="71.2" text-anchor="middle" font-size="9.5" fill="#000">0.03</text></g>
<g><rect x="308.17" y="327.3" width="11.25" height="0.3" fill="#FFFFFF" stroke="#000" stroke-width="1.55"/><rect x="327.88" y="322.9" width="11.25" height="4.7" fill="#D4D4D4" stroke="#000" stroke-width="1.55"/><rect x="341.77" y="274.4" width="11.25" height="53.2" fill="#5F5F5F" stroke="#000" stroke-width="1.55"/><rect x="361.57" y="324.8" width="11.25" height="2.8" fill="#D4D4D4" stroke="#000" stroke-width="1.55"/><rect x="375.38" y="262.5" width="11.25" height="65.1" fill="#5F5F5F"/><path d="M375.38 262.5V327.6M386.63 262.5V327.6" stroke="#000" stroke-width="1.55" fill="none"/><rect x="375.38" y="253.3" width="11.25" height="0.4" fill="#5F5F5F"/><path d="M375.38 253.7V254.1H386.63V253.7" stroke="#000" stroke-width="1.55" fill="none"/><rect x="394.97" y="326.8" width="11.25" height="0.8" fill="#D4D4D4" stroke="#000" stroke-width="1.55"/><rect x="408.88" y="312.3" width="11.25" height="15.3" fill="#5F5F5F" stroke="#000" stroke-width="1.55"/><rect x="428.67" y="327.1" width="11.25" height="0.5" fill="#D4D4D4" stroke="#000" stroke-width="1.55"/><rect x="442.47" y="324.8" width="11.25" height="2.8" fill="#5F5F5F" stroke="#000" stroke-width="1.55"/><path d="M347.4 273.6V262.7" stroke="#000" stroke-width="0.9" fill="none"/><path d="M347.4 254.0V251.1M344.1 251.1H350.7" stroke="#000" stroke-width="0.9" fill="none"/><path d="M381.0 253.3V247.0" stroke="#000" stroke-width="0.9" fill="none"/><path d="M414.5 311.5V289.8M411.2 289.8H417.8" stroke="#000" stroke-width="0.9" fill="none"/><path d="M448.1 324.0V317.6M444.8 317.6H451.4" stroke="#000" stroke-width="0.9" fill="none"/><circle cx="309.8" cy="326.7" r="2.25" fill="#000"/><circle cx="313.8" cy="326.5" r="2.25" fill="#000"/><circle cx="317.8" cy="326.7" r="2.25" fill="#000"/><rect x="326.7" y="320.7" width="4.4" height="4.4" fill="#000"/><rect x="330.2" y="316.9" width="4.4" height="4.4" fill="#000"/><rect x="334.8" y="317.6" width="4.4" height="4.4" fill="#000"/><path d="M344.8 268.5H350.0L347.4 273.0Z" fill="#000"/><path d="M344.8 247.2H350.0L347.4 251.7Z" fill="#000"/><path d="M344.8 283.5H350.0L347.4 288.0Z" fill="#000"/><path d="M344.8 294.9H350.0L347.4 299.4Z" fill="#000"/><rect x="360.0" y="323.0" width="4.4" height="4.4" fill="#000"/><rect x="363.8" y="319.9" width="4.4" height="4.4" fill="#000"/><rect x="368.4" y="319.9" width="4.4" height="4.4" fill="#000"/><path d="M374.1 250.7H379.3L376.7 255.2Z" fill="#000"/><path d="M382.8 251.7H388.0L385.4 256.2Z" fill="#000"/><path d="M378.4 243.8H383.6L381.0 248.3Z" fill="#000"/><path d="M378.4 285.0H383.6L381.0 289.5Z" fill="#000"/><rect x="394.4" y="324.2" width="4.4" height="4.4" fill="#000"/><rect x="398.4" y="324.0" width="4.4" height="4.4" fill="#000"/><rect x="402.4" y="324.2" width="4.4" height="4.4" fill="#000"/><path d="M412.1 277.7H417.3L414.7 282.2Z" fill="#000"/><path d="M409.8 313.3H415.0L412.4 317.8Z" fill="#000"/><path d="M414.4 315.6H419.6L417.0 320.1Z" fill="#000"/><path d="M412.1 322.9H417.3L414.7 327.4Z" fill="#000"/><circle cx="430.3" cy="326.8" r="2.25" fill="#000"/><circle cx="434.3" cy="326.6" r="2.25" fill="#000"/><circle cx="438.3" cy="326.8" r="2.25" fill="#000"/><rect x="446.2" y="312.3" width="4.4" height="4.4" fill="#000"/><rect x="442.3" y="323.4" width="4.4" height="4.4" fill="#000"/><rect x="445.9" y="323.4" width="4.4" height="4.4" fill="#000"/><rect x="449.8" y="323.4" width="4.4" height="4.4" fill="#000"/><path d="M300.6 210.5V253.7M297.4 253.7H303.8" stroke="#000" stroke-width="1.35" fill="none"/><path d="M300.6 262.5V327.6M297.4 262.5H303.8" stroke="#000" stroke-width="1.35" fill="none"/><path d="M295.4 210.5H300.6" stroke="#000" stroke-width="1.35"/><path d="M295.4 223.8H300.6" stroke="#000" stroke-width="1.35"/><path d="M295.4 237.4H300.6" stroke="#000" stroke-width="1.35"/><path d="M295.4 251.3H300.6" stroke="#000" stroke-width="1.35"/><path d="M295.4 295.2H300.6" stroke="#000" stroke-width="1.35"/><path d="M295.4 327.6H300.6" stroke="#000" stroke-width="1.35"/><path d="M300.1 327.6H462.7" stroke="#000" stroke-width="1.5"/><path d="M313.8 327.6v5.0" stroke="#000" stroke-width="1.4"/><path d="M333.5 327.6v5.0" stroke="#000" stroke-width="1.4"/><path d="M347.4 327.6v5.0" stroke="#000" stroke-width="1.4"/><path d="M367.2 327.6v5.0" stroke="#000" stroke-width="1.4"/><path d="M381.0 327.6v5.0" stroke="#000" stroke-width="1.4"/><path d="M400.6 327.6v5.0" stroke="#000" stroke-width="1.4"/><path d="M414.5 327.6v5.0" stroke="#000" stroke-width="1.4"/><path d="M434.3 327.6v5.0" stroke="#000" stroke-width="1.4"/><path d="M448.1 327.6v5.0" stroke="#000" stroke-width="1.4"/><text x="312.2" y="347.4" text-anchor="middle" font-size="12.7" fill="#000">CT</text><text x="343.3" y="347.4" text-anchor="middle" font-size="12.7" fill="#000">4h</text><text x="374.7" y="347.4" text-anchor="middle" font-size="12.7" fill="#000">7h</text><text x="408.2" y="347.4" text-anchor="middle" font-size="12.7" fill="#000">24h</text><text x="444.5" y="347.4" text-anchor="middle" font-size="12.7" fill="#000">72h</text><path d="M366.9 239.3V232.8H380.7V239.3" stroke="#000" stroke-width="1.15" fill="none"/><text x="373.9" y="226.8" text-anchor="middle" font-size="9.5" fill="#000">0.05</text></g>
<g><rect x="308.17" y="488.3" width="11.25" height="0.3" fill="#FFFFFF" stroke="#000" stroke-width="1.55"/><rect x="327.88" y="488.0" width="11.25" height="0.3" fill="#D4D4D4" stroke="#000" stroke-width="1.55"/><rect x="341.77" y="454.2" width="11.25" height="33.8" fill="#5F5F5F" stroke="#000" stroke-width="1.55"/><rect x="361.57" y="487.3" width="11.25" height="0.7" fill="#D4D4D4" stroke="#000" stroke-width="1.55"/><rect x="375.38" y="422.9" width="11.25" height="65.1" fill="#5F5F5F"/><path d="M375.38 422.9V488.0M386.63 422.9V488.0" stroke="#000" stroke-width="1.55" fill="none"/><rect x="375.38" y="408.9" width="11.25" height="5.0" fill="#5F5F5F"/><path d="M375.38 413.9V409.7H386.63V413.9" stroke="#000" stroke-width="1.55" fill="none"/><rect x="394.97" y="488.1" width="11.25" height="0.3" fill="#D4D4D4" stroke="#000" stroke-width="1.55"/><rect x="408.88" y="422.9" width="11.25" height="65.1" fill="#5F5F5F"/><path d="M408.88 422.9V488.0M420.13 422.9V488.0" stroke="#000" stroke-width="1.55" fill="none"/><rect x="408.88" y="407.6" width="11.25" height="6.3" fill="#5F5F5F"/><path d="M408.88 413.9V408.4H420.13V413.9" stroke="#000" stroke-width="1.55" fill="none"/><rect x="428.67" y="488.3" width="11.25" height="0.3" fill="#D4D4D4" stroke="#000" stroke-width="1.55"/><rect x="442.47" y="448.6" width="11.25" height="39.4" fill="#5F5F5F" stroke="#000" stroke-width="1.55"/><path d="M347.4 453.4V432.5M344.1 432.5H350.7" stroke="#000" stroke-width="0.9" fill="none"/><path d="M381.0 408.9V403.5M377.7 403.5H384.3" stroke="#000" stroke-width="0.9" fill="none"/><path d="M414.5 407.6V398.2M411.2 398.2H417.8" stroke="#000" stroke-width="0.9" fill="none"/><path d="M448.1 447.8V423.1" stroke="#000" stroke-width="0.9" fill="none"/><circle cx="309.8" cy="487.6" r="2.25" fill="#000"/><circle cx="313.8" cy="487.6" r="2.25" fill="#000"/><circle cx="317.8" cy="487.6" r="2.25" fill="#000"/><rect x="327.3" y="485.1" width="4.4" height="4.4" fill="#000"/><rect x="331.3" y="484.6" width="4.4" height="4.4" fill="#000"/><rect x="335.3" y="485.1" width="4.4" height="4.4" fill="#000"/><path d="M344.8 422.1H350.0L347.4 426.6Z" fill="#000"/><path d="M344.8 449.6H350.0L347.4 454.1Z" fill="#000"/><path d="M344.8 460.6H350.0L347.4 465.1Z" fill="#000"/><path d="M344.8 470.2H350.0L347.4 474.7Z" fill="#000"/><rect x="361.0" y="484.5" width="4.4" height="4.4" fill="#000"/><rect x="365.0" y="483.3" width="4.4" height="4.4" fill="#000"/><rect x="369.0" y="484.0" width="4.4" height="4.4" fill="#000"/><path d="M374.1 404.6H379.3L376.7 409.1Z" fill="#000"/><path d="M382.8 400.4H388.0L385.4 404.9Z" fill="#000"/><path d="M378.4 410.7H383.6L381.0 415.2Z" fill="#000"/><rect x="394.4" y="485.1" width="4.4" height="4.4" fill="#000"/><rect x="398.4" y="485.1" width="4.4" height="4.4" fill="#000"/><rect x="402.4" y="485.1" width="4.4" height="4.4" fill="#000"/><path d="M412.1 393.4H417.3L414.7 397.9Z" fill="#000"/><path d="M412.1 402.3H417.3L414.7 406.8Z" fill="#000"/><path d="M412.1 408.4H417.3L414.7 412.9Z" fill="#000"/><path d="M412.1 452.7H417.3L414.7 457.2Z" fill="#000"/><circle cx="430.3" cy="487.7" r="2.25" fill="#000"/><circle cx="434.3" cy="487.7" r="2.25" fill="#000"/><circle cx="438.3" cy="487.7" r="2.25" fill="#000"/><rect x="446.2" y="410.2" width="4.4" height="4.4" fill="#000"/><rect x="446.2" y="450.5" width="4.4" height="4.4" fill="#000"/><rect x="442.2" y="472.6" width="4.4" height="4.4" fill="#000"/><rect x="450.3" y="472.6" width="4.4" height="4.4" fill="#000"/><path d="M300.6 371.1V413.9M297.4 413.9H303.8" stroke="#000" stroke-width="1.35" fill="none"/><path d="M300.6 422.9V488.0M297.4 422.9H303.8" stroke="#000" stroke-width="1.35" fill="none"/><path d="M295.4 371.1H300.6" stroke="#000" stroke-width="1.35"/><path d="M295.4 383.2H300.6" stroke="#000" stroke-width="1.35"/><path d="M295.4 395.3H300.6" stroke="#000" stroke-width="1.35"/><path d="M295.4 407.8H300.6" stroke="#000" stroke-width="1.35"/><path d="M295.4 455.3H300.6" stroke="#000" stroke-width="1.35"/><path d="M295.4 488.0H300.6" stroke="#000" stroke-width="1.35"/><path d="M300.1 488.0H462.7" stroke="#000" stroke-width="1.5"/><path d="M313.8 488.0v5.0" stroke="#000" stroke-width="1.4"/><path d="M333.5 488.0v5.0" stroke="#000" stroke-width="1.4"/><path d="M347.4 488.0v5.0" stroke="#000" stroke-width="1.4"/><path d="M367.2 488.0v5.0" stroke="#000" stroke-width="1.4"/><path d="M381.0 488.0v5.0" stroke="#000" stroke-width="1.4"/><path d="M400.6 488.0v5.0" stroke="#000" stroke-width="1.4"/><path d="M414.5 488.0v5.0" stroke="#000" stroke-width="1.4"/><path d="M434.3 488.0v5.0" stroke="#000" stroke-width="1.4"/><path d="M448.1 488.0v5.0" stroke="#000" stroke-width="1.4"/><text x="312.2" y="507.4" text-anchor="middle" font-size="12.7" fill="#000">CT</text><text x="343.3" y="507.4" text-anchor="middle" font-size="12.7" fill="#000">4h</text><text x="374.7" y="507.4" text-anchor="middle" font-size="12.7" fill="#000">7h</text><text x="408.2" y="507.4" text-anchor="middle" font-size="12.7" fill="#000">24h</text><text x="444.5" y="507.4" text-anchor="middle" font-size="12.7" fill="#000">72h</text></g>
<g><rect x="308.17" y="632.3" width="11.25" height="29.7" fill="#FFFFFF" stroke="#000" stroke-width="1.55"/><rect x="327.88" y="623.6" width="11.25" height="38.4" fill="#D4D4D4" stroke="#000" stroke-width="1.55"/><rect x="341.77" y="611.8" width="11.25" height="50.2" fill="#5F5F5F" stroke="#000" stroke-width="1.55"/><rect x="361.57" y="619.0" width="11.25" height="43.0" fill="#D4D4D4" stroke="#000" stroke-width="1.55"/><rect x="375.38" y="610.6" width="11.25" height="51.4" fill="#5F5F5F" stroke="#000" stroke-width="1.55"/><rect x="394.97" y="635.8" width="11.25" height="26.2" fill="#D4D4D4" stroke="#000" stroke-width="1.55"/><rect x="408.88" y="601.8" width="11.25" height="60.2" fill="#5F5F5F" stroke="#000" stroke-width="1.55"/><rect x="428.67" y="628.9" width="11.25" height="33.1" fill="#D4D4D4" stroke="#000" stroke-width="1.55"/><rect x="442.47" y="606.8" width="11.25" height="55.2" fill="#5F5F5F" stroke="#000" stroke-width="1.55"/><path d="M313.8 631.5V622.3M310.5 622.3H317.1" stroke="#000" stroke-width="0.9" fill="none"/><path d="M333.5 622.8V609.4M330.2 609.4H336.8" stroke="#000" stroke-width="0.9" fill="none"/><path d="M347.4 611.0V597.3" stroke="#000" stroke-width="0.9" fill="none"/><path d="M347.4 588.6V588.1M344.1 588.1H350.7" stroke="#000" stroke-width="0.9" fill="none"/><path d="M367.2 618.2V612.9M363.9 612.9H370.5" stroke="#000" stroke-width="0.9" fill="none"/><path d="M381.0 609.8V597.3" stroke="#000" stroke-width="0.9" fill="none"/><path d="M381.0 588.8V588.4M377.7 588.4H384.3" stroke="#000" stroke-width="0.9" fill="none"/><path d="M400.6 635.0V630.4M397.3 630.4H403.9" stroke="#000" stroke-width="0.9" fill="none"/><path d="M414.5 601.0V597.3" stroke="#000" stroke-width="0.9" fill="none"/><path d="M414.5 588.6V587.7M411.2 587.7H417.8" stroke="#000" stroke-width="0.9" fill="none"/><path d="M434.3 628.1V612.1M431.0 612.1H437.6" stroke="#000" stroke-width="0.9" fill="none"/><path d="M448.1 606.0V597.3" stroke="#000" stroke-width="0.9" fill="none"/><path d="M448.1 588.8V588.5M444.8 588.5H451.4" stroke="#000" stroke-width="0.9" fill="none"/><circle cx="313.3" cy="617.9" r="2.25" fill="#000"/><circle cx="309.5" cy="636.5" r="2.25" fill="#000"/><circle cx="313.5" cy="633.8" r="2.25" fill="#000"/><circle cx="317.6" cy="635.8" r="2.25" fill="#000"/><rect x="326.7" y="613.4" width="4.4" height="4.4" fill="#000"/><rect x="335.2" y="610.4" width="4.4" height="4.4" fill="#000"/><rect x="335.2" y="617.2" width="4.4" height="4.4" fill="#000"/><rect x="331.0" y="639.7" width="4.4" height="4.4" fill="#000"/><path d="M344.8 586.0H350.0L347.4 590.5Z" fill="#000"/><path d="M344.8 604.0H350.0L347.4 608.5Z" fill="#000"/><path d="M344.8 610.0H350.0L347.4 614.5Z" fill="#000"/><path d="M344.8 627.2H350.0L347.4 631.7Z" fill="#000"/><rect x="360.7" y="611.9" width="4.4" height="4.4" fill="#000"/><rect x="360.7" y="619.8" width="4.4" height="4.4" fill="#000"/><rect x="368.7" y="610.7" width="4.4" height="4.4" fill="#000"/><rect x="368.7" y="616.5" width="4.4" height="4.4" fill="#000"/><path d="M374.1 597.1H379.3L376.7 601.6Z" fill="#000"/><path d="M382.5 596.4H387.7L385.1 600.9Z" fill="#000"/><path d="M378.2 613.2H383.4L380.8 617.7Z" fill="#000"/><path d="M378.2 621.5H383.4L380.8 626.0Z" fill="#000"/><rect x="398.1" y="624.9" width="4.4" height="4.4" fill="#000"/><rect x="394.3" y="635.1" width="4.4" height="4.4" fill="#000"/><rect x="399.2" y="633.6" width="4.4" height="4.4" fill="#000"/><rect x="402.3" y="634.3" width="4.4" height="4.4" fill="#000"/><path d="M411.8 584.1H417.0L414.4 588.6Z" fill="#000"/><path d="M411.8 602.5H417.0L414.4 607.0Z" fill="#000"/><path d="M411.8 611.6H417.0L414.4 616.1Z" fill="#000"/><path d="M411.8 637.6H417.0L414.4 642.1Z" fill="#000"/><circle cx="429.9" cy="617.4" r="2.25" fill="#000"/><circle cx="438.3" cy="616.4" r="2.25" fill="#000"/><circle cx="434.2" cy="626.6" r="2.25" fill="#000"/><circle cx="434.2" cy="650.0" r="2.25" fill="#000"/><rect x="445.7" y="584.3" width="4.4" height="4.4" fill="#000"/><rect x="441.9" y="621.7" width="4.4" height="4.4" fill="#000"/><rect x="449.6" y="625.9" width="4.4" height="4.4" fill="#000"/><rect x="445.7" y="631.7" width="4.4" height="4.4" fill="#000"/><path d="M300.6 544.8V588.2M297.4 588.2H303.8" stroke="#000" stroke-width="1.35" fill="none"/><path d="M300.6 597.0V662.0M297.4 597.0H303.8" stroke="#000" stroke-width="1.35" fill="none"/><path d="M295.4 544.8H300.6" stroke="#000" stroke-width="1.35"/><path d="M295.4 560.1H300.6" stroke="#000" stroke-width="1.35"/><path d="M295.4 575.3H300.6" stroke="#000" stroke-width="1.35"/><path d="M295.4 618.6H300.6" stroke="#000" stroke-width="1.35"/><path d="M295.4 640.3H300.6" stroke="#000" stroke-width="1.35"/><path d="M295.4 662.0H300.6" stroke="#000" stroke-width="1.35"/><path d="M300.1 662.0H462.7" stroke="#000" stroke-width="1.5"/><path d="M313.8 662.0v5.0" stroke="#000" stroke-width="1.4"/><path d="M333.5 662.0v5.0" stroke="#000" stroke-width="1.4"/><path d="M347.4 662.0v5.0" stroke="#000" stroke-width="1.4"/><path d="M367.2 662.0v5.0" stroke="#000" stroke-width="1.4"/><path d="M381.0 662.0v5.0" stroke="#000" stroke-width="1.4"/><path d="M400.6 662.0v5.0" stroke="#000" stroke-width="1.4"/><path d="M414.5 662.0v5.0" stroke="#000" stroke-width="1.4"/><path d="M434.3 662.0v5.0" stroke="#000" stroke-width="1.4"/><path d="M448.1 662.0v5.0" stroke="#000" stroke-width="1.4"/><text x="312.2" y="682.4" text-anchor="middle" font-size="12.7" fill="#000">CT</text><text x="343.3" y="682.4" text-anchor="middle" font-size="12.7" fill="#000">4h</text><text x="374.7" y="682.4" text-anchor="middle" font-size="12.7" fill="#000">7h</text><text x="408.2" y="682.4" text-anchor="middle" font-size="12.7" fill="#000">24h</text><text x="444.5" y="682.4" text-anchor="middle" font-size="12.7" fill="#000">72h</text></g>
<g><rect x="308.17" y="799.3" width="11.25" height="27.3" fill="#FFFFFF" stroke="#000" stroke-width="1.55"/><rect x="327.88" y="806.1" width="11.25" height="20.5" fill="#D4D4D4" stroke="#000" stroke-width="1.55"/><rect x="341.77" y="800.0" width="11.25" height="26.6" fill="#5F5F5F" stroke="#000" stroke-width="1.55"/><rect x="361.57" y="802.3" width="11.25" height="24.3" fill="#D4D4D4" stroke="#000" stroke-width="1.55"/><rect x="375.38" y="797.7" width="11.25" height="28.9" fill="#5F5F5F" stroke="#000" stroke-width="1.55"/><rect x="394.97" y="800.8" width="11.25" height="25.8" fill="#D4D4D4" stroke="#000" stroke-width="1.55"/><rect x="408.88" y="784.8" width="11.25" height="41.8" fill="#5F5F5F" stroke="#000" stroke-width="1.55"/><rect x="428.67" y="811.5" width="11.25" height="15.1" fill="#D4D4D4" stroke="#000" stroke-width="1.55"/><rect x="442.47" y="775.9" width="11.25" height="50.7" fill="#5F5F5F" stroke="#000" stroke-width="1.55"/><path d="M313.8 798.5V792.4M310.5 792.4H317.1" stroke="#000" stroke-width="0.9" fill="none"/><path d="M347.4 799.2V792.4M344.1 792.4H350.7" stroke="#000" stroke-width="0.9" fill="none"/><path d="M367.2 801.5V796.5M363.9 796.5H370.5" stroke="#000" stroke-width="0.9" fill="none"/><path d="M381.0 796.9V782.4M377.7 782.4H384.3" stroke="#000" stroke-width="0.9" fill="none"/><path d="M400.6 800.0V792.1M397.3 792.1H403.9" stroke="#000" stroke-width="0.9" fill="none"/><path d="M414.5 784.0V778.6M411.2 778.6H417.8" stroke="#000" stroke-width="0.9" fill="none"/><path d="M434.3 810.7V805.3M431.0 805.3H437.6" stroke="#000" stroke-width="0.9" fill="none"/><path d="M448.1 775.1V761.6" stroke="#000" stroke-width="0.9" fill="none"/><circle cx="313.3" cy="790.8" r="2.25" fill="#000"/><circle cx="309.0" cy="797.7" r="2.25" fill="#000"/><circle cx="317.6" cy="800.0" r="2.25" fill="#000"/><circle cx="313.3" cy="805.0" r="2.25" fill="#000"/><rect x="326.7" y="804.7" width="4.4" height="4.4" fill="#000"/><rect x="330.2" y="803.1" width="4.4" height="4.4" fill="#000"/><rect x="334.8" y="803.9" width="4.4" height="4.4" fill="#000"/><path d="M340.2 791.1H345.4L342.8 795.6Z" fill="#000"/><path d="M344.8 794.2H350.0L347.4 798.7Z" fill="#000"/><path d="M348.9 794.5H354.1L351.5 799.0Z" fill="#000"/><path d="M344.8 805.9H350.0L347.4 810.4Z" fill="#000"/><rect x="360.7" y="797.0" width="4.4" height="4.4" fill="#000"/><rect x="368.7" y="793.7" width="4.4" height="4.4" fill="#000"/><rect x="368.7" y="801.3" width="4.4" height="4.4" fill="#000"/><rect x="364.6" y="806.2" width="4.4" height="4.4" fill="#000"/><path d="M377.9 773.3H383.1L380.5 777.8Z" fill="#000"/><path d="M374.8 798.8H380.0L377.4 803.3Z" fill="#000"/><path d="M381.7 798.8H386.9L384.3 803.3Z" fill="#000"/><path d="M377.9 803.3H383.1L380.5 807.8Z" fill="#000"/><rect x="393.8" y="792.5" width="4.4" height="4.4" fill="#000"/><rect x="402.2" y="790.2" width="4.4" height="4.4" fill="#000"/><rect x="398.1" y="797.8" width="4.4" height="4.4" fill="#000"/><rect x="398.1" y="806.7" width="4.4" height="4.4" fill="#000"/><path d="M407.5 778.5H412.7L410.1 783.0Z" fill="#000"/><path d="M415.9 775.9H421.1L418.5 780.4Z" fill="#000"/><path d="M411.8 788.8H417.0L414.4 793.3Z" fill="#000"/><path d="M415.9 782.0H421.1L418.5 786.5Z" fill="#000"/><circle cx="429.6" cy="808.7" r="2.25" fill="#000"/><circle cx="438.0" cy="804.9" r="2.25" fill="#000"/><circle cx="438.0" cy="809.9" r="2.25" fill="#000"/><circle cx="433.7" cy="815.3" r="2.25" fill="#000"/><rect x="445.7" y="749.3" width="4.4" height="4.4" fill="#000"/><rect x="445.7" y="787.1" width="4.4" height="4.4" fill="#000"/><rect x="441.9" y="793.7" width="4.4" height="4.4" fill="#000"/><rect x="449.6" y="793.7" width="4.4" height="4.4" fill="#000"/><path d="M300.6 709.0V752.4M297.4 752.4H303.8" stroke="#000" stroke-width="1.35" fill="none"/><path d="M300.6 761.4V826.6M297.4 761.4H303.8" stroke="#000" stroke-width="1.35" fill="none"/><path d="M295.4 709.0H300.6" stroke="#000" stroke-width="1.35"/><path d="M295.4 720.6H300.6" stroke="#000" stroke-width="1.35"/><path d="M295.4 732.1H300.6" stroke="#000" stroke-width="1.35"/><path d="M295.4 743.3H300.6" stroke="#000" stroke-width="1.35"/><path d="M295.4 793.9H300.6" stroke="#000" stroke-width="1.35"/><path d="M295.4 826.6H300.6" stroke="#000" stroke-width="1.35"/><path d="M300.1 826.6H462.7" stroke="#000" stroke-width="1.5"/><path d="M313.8 826.6v5.0" stroke="#000" stroke-width="1.4"/><path d="M333.5 826.6v5.0" stroke="#000" stroke-width="1.4"/><path d="M347.4 826.6v5.0" stroke="#000" stroke-width="1.4"/><path d="M367.2 826.6v5.0" stroke="#000" stroke-width="1.4"/><path d="M381.0 826.6v5.0" stroke="#000" stroke-width="1.4"/><path d="M400.6 826.6v5.0" stroke="#000" stroke-width="1.4"/><path d="M414.5 826.6v5.0" stroke="#000" stroke-width="1.4"/><path d="M434.3 826.6v5.0" stroke="#000" stroke-width="1.4"/><path d="M448.1 826.6v5.0" stroke="#000" stroke-width="1.4"/><text x="312.2" y="846.1" text-anchor="middle" font-size="12.7" fill="#000">CT</text><text x="343.3" y="846.1" text-anchor="middle" font-size="12.7" fill="#000">4h</text><text x="374.7" y="846.1" text-anchor="middle" font-size="12.7" fill="#000">7h</text><text x="408.2" y="846.1" text-anchor="middle" font-size="12.7" fill="#000">24h</text><text x="444.5" y="846.1" text-anchor="middle" font-size="12.7" fill="#000">72h</text><path d="M434.0 743.9V737.4H447.8V743.9" stroke="#000" stroke-width="1.15" fill="none"/><text x="441.0" y="731.4" text-anchor="middle" font-size="9.5" fill="#000">&lt;0.01</text></g>
<rect x="490.55" y="31.25" width="191.49999999999994" height="829.1" fill="#FFF9F9" stroke="#FB7C7C" stroke-width="2.5"/>
<text x="586.3" y="15.3" text-anchor="middle" font-size="19.5" fill="#FB7C7C">Liver</text>
<g><rect x="512.58" y="166.8" width="11.25" height="1.2" fill="#FFFFFF" stroke="#000" stroke-width="1.55"/><rect x="532.48" y="103.0" width="11.25" height="65.0" fill="#D4D4D4"/><path d="M532.48 103.0V168.0M543.73 103.0V168.0" stroke="#000" stroke-width="1.55" fill="none"/><rect x="532.48" y="89.7" width="11.25" height="4.6" fill="#D4D4D4"/><path d="M532.48 94.3V90.5H543.73V94.3" stroke="#000" stroke-width="1.55" fill="none"/><rect x="546.38" y="103.0" width="11.25" height="65.0" fill="#5F5F5F"/><path d="M546.38 103.0V168.0M557.63 103.0V168.0" stroke="#000" stroke-width="1.55" fill="none"/><rect x="546.38" y="86.1" width="11.25" height="8.2" fill="#5F5F5F"/><path d="M546.38 94.3V86.9H557.63V94.3" stroke="#000" stroke-width="1.55" fill="none"/><rect x="566.18" y="103.0" width="11.25" height="65.0" fill="#D4D4D4"/><path d="M566.18 103.0V168.0M577.43 103.0V168.0" stroke="#000" stroke-width="1.55" fill="none"/><rect x="566.18" y="87.0" width="11.25" height="7.3" fill="#D4D4D4"/><path d="M566.18 94.3V87.8H577.43V94.3" stroke="#000" stroke-width="1.55" fill="none"/><rect x="580.07" y="103.0" width="11.25" height="65.0" fill="#5F5F5F"/><path d="M580.07 103.0V168.0M591.32 103.0V168.0" stroke="#000" stroke-width="1.55" fill="none"/><rect x="580.07" y="71.6" width="11.25" height="22.7" fill="#5F5F5F"/><path d="M580.07 94.3V72.4H591.32V94.3" stroke="#000" stroke-width="1.55" fill="none"/><rect x="599.98" y="159.2" width="11.25" height="8.8" fill="#D4D4D4" stroke="#000" stroke-width="1.55"/><rect x="613.77" y="103.0" width="11.25" height="65.0" fill="#5F5F5F"/><path d="M613.77 103.0V168.0M625.02 103.0V168.0" stroke="#000" stroke-width="1.55" fill="none"/><rect x="613.77" y="91.5" width="11.25" height="2.8" fill="#5F5F5F"/><path d="M613.77 94.3V92.3H625.02V94.3" stroke="#000" stroke-width="1.55" fill="none"/><rect x="633.67" y="168.3" width="11.25" height="0.3" fill="#D4D4D4" stroke="#000" stroke-width="1.55"/><rect x="647.67" y="103.0" width="11.25" height="65.0" fill="#5F5F5F"/><path d="M647.67 103.0V168.0M658.92 103.0V168.0" stroke="#000" stroke-width="1.55" fill="none"/><rect x="647.67" y="89.2" width="11.25" height="5.1" fill="#5F5F5F"/><path d="M647.67 94.3V90.0H658.92V94.3" stroke="#000" stroke-width="1.55" fill="none"/><path d="M518.2 166.0V160.5M514.9 160.5H521.5" stroke="#000" stroke-width="0.9" fill="none"/><path d="M605.6 158.4V152.6M602.3 152.6H608.9" stroke="#000" stroke-width="0.9" fill="none"/><path d="M653.3 89.2V84.6M650.0 84.6H656.6" stroke="#000" stroke-width="0.9" fill="none"/><circle cx="518.2" cy="157.6" r="2.25" fill="#000"/><circle cx="514.1" cy="168.2" r="2.25" fill="#000"/><circle cx="518.2" cy="167.8" r="2.25" fill="#000"/><circle cx="522.4" cy="168.2" r="2.25" fill="#000"/><rect x="531.7" y="89.6" width="4.4" height="4.4" fill="#000"/><rect x="540.1" y="85.5" width="4.4" height="4.4" fill="#000"/><rect x="532.0" y="107.6" width="4.4" height="4.4" fill="#000"/><rect x="540.1" y="105.3" width="4.4" height="4.4" fill="#000"/><path d="M548.1 81.9H553.3L550.7 86.4Z" fill="#000"/><path d="M552.7 82.6H557.9L555.3 87.1Z" fill="#000"/><path d="M544.9 83.0H550.1L547.5 87.5Z" fill="#000"/><rect x="565.3" y="84.7" width="4.4" height="4.4" fill="#000"/><rect x="569.1" y="85.5" width="4.4" height="4.4" fill="#000"/><rect x="573.7" y="85.5" width="4.4" height="4.4" fill="#000"/><rect x="569.1" y="90.5" width="4.4" height="4.4" fill="#000"/><rect x="565.4" y="89.0" width="4.4" height="4.4" fill="#000"/><rect x="573.6" y="89.0" width="4.4" height="4.4" fill="#000"/><path d="M581.7 67.8H586.9L584.3 72.3Z" fill="#000"/><path d="M586.2 68.9H591.4L588.8 73.4Z" fill="#000"/><path d="M578.9 68.5H584.1L581.5 73.0Z" fill="#000"/><rect x="603.1" y="146.5" width="4.4" height="4.4" fill="#000"/><rect x="599.3" y="159.5" width="4.4" height="4.4" fill="#000"/><rect x="603.1" y="158.0" width="4.4" height="4.4" fill="#000"/><rect x="607.2" y="159.5" width="4.4" height="4.4" fill="#000"/><path d="M612.2 83.4H617.4L614.8 87.9Z" fill="#000"/><path d="M616.8 86.4H622.0L619.4 90.9Z" fill="#000"/><path d="M620.6 86.4H625.8L623.2 90.9Z" fill="#000"/><path d="M616.3 109.3H621.5L618.9 113.8Z" fill="#000"/><circle cx="634.6" cy="167.8" r="2.25" fill="#000"/><circle cx="638.7" cy="167.5" r="2.25" fill="#000"/><circle cx="643.0" cy="167.8" r="2.25" fill="#000"/><rect x="654.6" y="80.9" width="4.4" height="4.4" fill="#000"/><rect x="646.2" y="85.5" width="4.4" height="4.4" fill="#000"/><rect x="654.6" y="89.6" width="4.4" height="4.4" fill="#000"/><rect x="646.2" y="91.6" width="4.4" height="4.4" fill="#000"/><path d="M505.0 51.2V94.3M501.8 94.3H508.2" stroke="#000" stroke-width="1.35" fill="none"/><path d="M505.0 103.0V168.0M501.8 103.0H508.2" stroke="#000" stroke-width="1.35" fill="none"/><path d="M499.8 51.2H505.0" stroke="#000" stroke-width="1.35"/><path d="M499.8 64.6H505.0" stroke="#000" stroke-width="1.35"/><path d="M499.8 78.2H505.0" stroke="#000" stroke-width="1.35"/><path d="M499.8 91.8H505.0" stroke="#000" stroke-width="1.35"/><path d="M499.8 135.5H505.0" stroke="#000" stroke-width="1.35"/><path d="M499.8 168.0H505.0" stroke="#000" stroke-width="1.35"/><path d="M504.5 168.0H667.1" stroke="#000" stroke-width="1.5"/><path d="M518.2 168.0v5.0" stroke="#000" stroke-width="1.4"/><path d="M537.9 168.0v5.0" stroke="#000" stroke-width="1.4"/><path d="M551.8 168.0v5.0" stroke="#000" stroke-width="1.4"/><path d="M571.6 168.0v5.0" stroke="#000" stroke-width="1.4"/><path d="M585.4 168.0v5.0" stroke="#000" stroke-width="1.4"/><path d="M605.0 168.0v5.0" stroke="#000" stroke-width="1.4"/><path d="M618.9 168.0v5.0" stroke="#000" stroke-width="1.4"/><path d="M638.7 168.0v5.0" stroke="#000" stroke-width="1.4"/><path d="M652.5 168.0v5.0" stroke="#000" stroke-width="1.4"/><text x="516.6" y="187.9" text-anchor="middle" font-size="12.7" fill="#000">CT</text><text x="547.7" y="187.9" text-anchor="middle" font-size="12.7" fill="#000">4h</text><text x="579.1" y="187.9" text-anchor="middle" font-size="12.7" fill="#000">7h</text><text x="612.6" y="187.9" text-anchor="middle" font-size="12.7" fill="#000">24h</text><text x="648.9" y="187.9" text-anchor="middle" font-size="12.7" fill="#000">72h</text><path d="M537.8 62.1V55.6H551.7V62.1" stroke="#000" stroke-width="1.15" fill="none"/><text x="544.9" y="49.6" text-anchor="middle" font-size="9.5" fill="#000">&lt;0.01</text><path d="M571.5 62.1V55.6H585.4V62.1" stroke="#000" stroke-width="1.15" fill="none"/><text x="578.6" y="49.6" text-anchor="middle" font-size="9.5" fill="#000">&lt;0.01</text><path d="M605.3 62.1V55.6H619.1V62.1" stroke="#000" stroke-width="1.15" fill="none"/><text x="612.3" y="49.6" text-anchor="middle" font-size="9.5" fill="#000">&lt;0.01</text><path d="M639.0 62.1V55.6H653.0V62.1" stroke="#000" stroke-width="1.15" fill="none"/><text x="646.1" y="49.6" text-anchor="middle" font-size="9.5" fill="#000">&lt;0.01</text></g>
<g><rect x="512.58" y="326.3" width="11.25" height="1.3" fill="#FFFFFF" stroke="#000" stroke-width="1.55"/><rect x="532.48" y="264.8" width="11.25" height="62.8" fill="#D4D4D4" stroke="#000" stroke-width="1.55"/><rect x="546.38" y="262.5" width="11.25" height="65.1" fill="#5F5F5F"/><path d="M546.38 262.5V327.6M557.63 262.5V327.6" stroke="#000" stroke-width="1.55" fill="none"/><rect x="546.38" y="246.9" width="11.25" height="6.8" fill="#5F5F5F"/><path d="M546.38 253.7V247.7H557.63V253.7" stroke="#000" stroke-width="1.55" fill="none"/><rect x="566.18" y="285.1" width="11.25" height="42.5" fill="#D4D4D4" stroke="#000" stroke-width="1.55"/><rect x="580.07" y="262.5" width="11.25" height="65.1" fill="#5F5F5F"/><path d="M580.07 262.5V327.6M591.32 262.5V327.6" stroke="#000" stroke-width="1.55" fill="none"/><rect x="580.07" y="239.3" width="11.25" height="14.4" fill="#5F5F5F"/><path d="M580.07 253.7V240.1H591.32V253.7" stroke="#000" stroke-width="1.55" fill="none"/><rect x="599.98" y="323.8" width="11.25" height="3.8" fill="#D4D4D4" stroke="#000" stroke-width="1.55"/><rect x="613.77" y="265.7" width="11.25" height="61.9" fill="#5F5F5F" stroke="#000" stroke-width="1.55"/><rect x="633.67" y="327.8" width="11.25" height="0.3" fill="#D4D4D4" stroke="#000" stroke-width="1.55"/><rect x="647.67" y="262.5" width="11.25" height="65.1" fill="#5F5F5F"/><path d="M647.67 262.5V327.6M658.92 262.5V327.6" stroke="#000" stroke-width="1.55" fill="none"/><rect x="647.67" y="252.5" width="11.25" height="1.2" fill="#5F5F5F"/><path d="M647.67 253.7V253.3H658.92V253.7" stroke="#000" stroke-width="1.55" fill="none"/><path d="M518.2 325.5V321.0M514.9 321.0H521.5" stroke="#000" stroke-width="0.9" fill="none"/><path d="M571.8 284.3V274.4M568.5 274.4H575.1" stroke="#000" stroke-width="0.9" fill="none"/><path d="M605.6 323.0V319.4M602.3 319.4H608.9" stroke="#000" stroke-width="0.9" fill="none"/><path d="M619.4 264.9V262.7" stroke="#000" stroke-width="0.9" fill="none"/><path d="M533.9 252.2L542.3 251.4M615.1 252.5L623.5 251.3" stroke="#000" stroke-width="0.8"/><circle cx="518.2" cy="317.9" r="2.25" fill="#000"/><circle cx="514.1" cy="327.5" r="2.25" fill="#000"/><circle cx="518.2" cy="327.2" r="2.25" fill="#000"/><circle cx="522.4" cy="327.5" r="2.25" fill="#000"/><rect x="531.7" y="250.1" width="4.4" height="4.4" fill="#000"/><rect x="540.1" y="248.8" width="4.4" height="4.4" fill="#000"/><rect x="532.0" y="278.6" width="4.4" height="4.4" fill="#000"/><rect x="540.1" y="274.5" width="4.4" height="4.4" fill="#000"/><path d="M548.1 243.4H553.3L550.7 247.9Z" fill="#000"/><path d="M552.7 243.4H557.9L555.3 247.9Z" fill="#000"/><path d="M544.9 244.0H550.1L547.5 248.5Z" fill="#000"/><rect x="569.5" y="267.9" width="4.4" height="4.4" fill="#000"/><rect x="565.3" y="289.0" width="4.4" height="4.4" fill="#000"/><rect x="569.1" y="284.4" width="4.4" height="4.4" fill="#000"/><rect x="573.7" y="284.4" width="4.4" height="4.4" fill="#000"/><path d="M582.7 235.0H587.9L585.3 239.5Z" fill="#000"/><path d="M587.0 231.5H592.2L589.6 236.0Z" fill="#000"/><path d="M578.6 240.0H583.8L581.2 244.5Z" fill="#000"/><rect x="603.1" y="313.1" width="4.4" height="4.4" fill="#000"/><rect x="599.3" y="322.8" width="4.4" height="4.4" fill="#000"/><rect x="603.1" y="322.3" width="4.4" height="4.4" fill="#000"/><rect x="607.2" y="322.8" width="4.4" height="4.4" fill="#000"/><path d="M612.5 250.7H617.7L615.1 255.2Z" fill="#000"/><path d="M620.9 249.2H626.1L623.5 253.7Z" fill="#000"/><path d="M612.5 275.4H617.7L615.1 279.9Z" fill="#000"/><path d="M620.6 271.6H625.8L623.2 276.1Z" fill="#000"/><circle cx="634.6" cy="327.5" r="2.25" fill="#000"/><circle cx="638.7" cy="327.3" r="2.25" fill="#000"/><circle cx="643.0" cy="327.5" r="2.25" fill="#000"/><rect x="646.9" y="249.0" width="4.4" height="4.4" fill="#000"/><rect x="650.7" y="250.8" width="4.4" height="4.4" fill="#000"/><rect x="654.9" y="249.7" width="4.4" height="4.4" fill="#000"/><rect x="650.7" y="272.6" width="4.4" height="4.4" fill="#000"/><path d="M505.0 210.5V253.7M501.8 253.7H508.2" stroke="#000" stroke-width="1.35" fill="none"/><path d="M505.0 262.5V327.6M501.8 262.5H508.2" stroke="#000" stroke-width="1.35" fill="none"/><path d="M499.8 210.5H505.0" stroke="#000" stroke-width="1.35"/><path d="M499.8 223.8H505.0" stroke="#000" stroke-width="1.35"/><path d="M499.8 237.4H505.0" stroke="#000" stroke-width="1.35"/><path d="M499.8 251.3H505.0" stroke="#000" stroke-width="1.35"/><path d="M499.8 295.2H505.0" stroke="#000" stroke-width="1.35"/><path d="M499.8 327.6H505.0" stroke="#000" stroke-width="1.35"/><path d="M504.5 327.6H667.1" stroke="#000" stroke-width="1.5"/><path d="M518.2 327.6v5.0" stroke="#000" stroke-width="1.4"/><path d="M537.9 327.6v5.0" stroke="#000" stroke-width="1.4"/><path d="M551.8 327.6v5.0" stroke="#000" stroke-width="1.4"/><path d="M571.6 327.6v5.0" stroke="#000" stroke-width="1.4"/><path d="M585.4 327.6v5.0" stroke="#000" stroke-width="1.4"/><path d="M605.0 327.6v5.0" stroke="#000" stroke-width="1.4"/><path d="M618.9 327.6v5.0" stroke="#000" stroke-width="1.4"/><path d="M638.7 327.6v5.0" stroke="#000" stroke-width="1.4"/><path d="M652.5 327.6v5.0" stroke="#000" stroke-width="1.4"/><text x="516.6" y="347.4" text-anchor="middle" font-size="12.7" fill="#000">CT</text><text x="547.7" y="347.4" text-anchor="middle" font-size="12.7" fill="#000">4h</text><text x="579.1" y="347.4" text-anchor="middle" font-size="12.7" fill="#000">7h</text><text x="612.6" y="347.4" text-anchor="middle" font-size="12.7" fill="#000">24h</text><text x="648.9" y="347.4" text-anchor="middle" font-size="12.7" fill="#000">72h</text><path d="M537.8 227.1V220.6H551.7V227.1" stroke="#000" stroke-width="1.15" fill="none"/><text x="544.9" y="214.6" text-anchor="middle" font-size="9.5" fill="#000">0.05</text><path d="M571.5 227.1V220.6H585.4V227.1" stroke="#000" stroke-width="1.15" fill="none"/><text x="578.6" y="214.6" text-anchor="middle" font-size="9.5" fill="#000">&lt;0.01</text><path d="M605.3 227.1V220.6H619.1V227.1" stroke="#000" stroke-width="1.15" fill="none"/><text x="612.3" y="214.6" text-anchor="middle" font-size="9.5" fill="#000">&lt;0.01</text><path d="M639.0 227.1V220.6H653.0V227.1" stroke="#000" stroke-width="1.15" fill="none"/><text x="646.1" y="214.6" text-anchor="middle" font-size="9.5" fill="#000">&lt;0.01</text></g>
<g><rect x="512.58" y="488.3" width="11.25" height="0.3" fill="#FFFFFF" stroke="#000" stroke-width="1.55"/><rect x="532.48" y="487.8" width="11.25" height="0.3" fill="#D4D4D4" stroke="#000" stroke-width="1.55"/><rect x="546.38" y="429.6" width="11.25" height="58.4" fill="#5F5F5F"/><path d="M546.38 429.6V488.0M557.63 429.6V488.0" stroke="#000" stroke-width="1.55" fill="none"/><rect x="546.38" y="420.5" width="11.25" height="0.4" fill="#5F5F5F"/><path d="M546.38 420.9V421.3H557.63V420.9" stroke="#000" stroke-width="1.55" fill="none"/><rect x="566.18" y="485.6" width="11.25" height="2.4" fill="#D4D4D4" stroke="#000" stroke-width="1.55"/><rect x="580.07" y="429.6" width="11.25" height="58.4" fill="#5F5F5F"/><path d="M580.07 429.6V488.0M591.32 429.6V488.0" stroke="#000" stroke-width="1.55" fill="none"/><rect x="580.07" y="407.2" width="11.25" height="13.7" fill="#5F5F5F"/><path d="M580.07 420.9V408.0H591.32V420.9" stroke="#000" stroke-width="1.55" fill="none"/><rect x="599.98" y="484.8" width="11.25" height="3.2" fill="#D4D4D4" stroke="#000" stroke-width="1.55"/><rect x="613.77" y="429.6" width="11.25" height="58.4" fill="#5F5F5F"/><path d="M613.77 429.6V488.0M625.02 429.6V488.0" stroke="#000" stroke-width="1.55" fill="none"/><rect x="613.77" y="399.3" width="11.25" height="21.6" fill="#5F5F5F"/><path d="M613.77 420.9V400.1H625.02V420.9" stroke="#000" stroke-width="1.55" fill="none"/><rect x="633.67" y="488.4" width="11.25" height="0.3" fill="#D4D4D4" stroke="#000" stroke-width="1.55"/><rect x="647.67" y="429.6" width="11.25" height="58.4" fill="#5F5F5F"/><path d="M647.67 429.6V488.0M658.92 429.6V488.0" stroke="#000" stroke-width="1.55" fill="none"/><rect x="647.67" y="413.8" width="11.25" height="7.1" fill="#5F5F5F"/><path d="M647.67 420.9V414.6H658.92V420.9" stroke="#000" stroke-width="1.55" fill="none"/><path d="M571.8 484.8V482.0M568.5 482.0H575.1" stroke="#000" stroke-width="0.9" fill="none"/><path d="M585.7 407.2V404.6M582.4 404.6H589.0" stroke="#000" stroke-width="0.9" fill="none"/><path d="M605.6 484.0V480.0M602.3 480.0H608.9" stroke="#000" stroke-width="0.9" fill="none"/><path d="M619.4 399.3V392.4M616.1 392.4H622.7" stroke="#000" stroke-width="0.9" fill="none"/><path d="M653.3 413.8V400.0" stroke="#000" stroke-width="0.9" fill="none"/><circle cx="514.1" cy="487.8" r="2.25" fill="#000"/><circle cx="517.3" cy="484.8" r="2.25" fill="#000"/><circle cx="521.7" cy="487.8" r="2.25" fill="#000"/><rect x="531.7" y="484.8" width="4.4" height="4.4" fill="#000"/><rect x="535.7" y="484.3" width="4.4" height="4.4" fill="#000"/><rect x="539.7" y="484.8" width="4.4" height="4.4" fill="#000"/><path d="M545.0 417.9H550.2L547.6 422.4Z" fill="#000"/><path d="M548.8 416.4H554.0L551.4 420.9Z" fill="#000"/><path d="M553.1 417.1H558.3L555.7 421.6Z" fill="#000"/><rect x="569.5" y="477.7" width="4.4" height="4.4" fill="#000"/><rect x="565.4" y="483.8" width="4.4" height="4.4" fill="#000"/><rect x="569.4" y="483.8" width="4.4" height="4.4" fill="#000"/><rect x="573.4" y="483.8" width="4.4" height="4.4" fill="#000"/><path d="M578.6 400.6H583.8L581.2 405.1Z" fill="#000"/><path d="M587.0 402.2H592.2L589.6 406.7Z" fill="#000"/><path d="M582.7 404.9H587.9L585.3 409.4Z" fill="#000"/><path d="M582.7 410.7H587.9L585.3 415.2Z" fill="#000"/><rect x="603.1" y="476.2" width="4.4" height="4.4" fill="#000"/><rect x="603.1" y="479.2" width="4.4" height="4.4" fill="#000"/><rect x="599.3" y="483.3" width="4.4" height="4.4" fill="#000"/><rect x="607.2" y="483.3" width="4.4" height="4.4" fill="#000"/><path d="M612.5 392.4H617.7L615.1 396.9Z" fill="#000"/><path d="M620.6 389.3H625.8L623.2 393.8Z" fill="#000"/><path d="M612.9 401.1H618.1L615.5 405.6Z" fill="#000"/><path d="M620.3 401.1H625.5L622.9 405.6Z" fill="#000"/><circle cx="634.6" cy="488.0" r="2.25" fill="#000"/><circle cx="638.7" cy="487.8" r="2.25" fill="#000"/><circle cx="643.0" cy="488.0" r="2.25" fill="#000"/><rect x="650.4" y="397.8" width="4.4" height="4.4" fill="#000"/><rect x="650.4" y="406.2" width="4.4" height="4.4" fill="#000"/><rect x="646.9" y="441.3" width="4.4" height="4.4" fill="#000"/><rect x="654.6" y="439.8" width="4.4" height="4.4" fill="#000"/><path d="M505.0 371.0V420.9M501.8 420.9H508.2" stroke="#000" stroke-width="1.35" fill="none"/><path d="M505.0 429.6V488.0M501.8 429.6H508.2" stroke="#000" stroke-width="1.35" fill="none"/><path d="M499.8 371.0H505.0" stroke="#000" stroke-width="1.35"/><path d="M499.8 384.8H505.0" stroke="#000" stroke-width="1.35"/><path d="M499.8 399.2H505.0" stroke="#000" stroke-width="1.35"/><path d="M499.8 413.3H505.0" stroke="#000" stroke-width="1.35"/><path d="M499.8 458.9H505.0" stroke="#000" stroke-width="1.35"/><path d="M499.8 488.0H505.0" stroke="#000" stroke-width="1.35"/><path d="M504.5 488.0H667.1" stroke="#000" stroke-width="1.5"/><path d="M518.2 488.0v5.0" stroke="#000" stroke-width="1.4"/><path d="M537.9 488.0v5.0" stroke="#000" stroke-width="1.4"/><path d="M551.8 488.0v5.0" stroke="#000" stroke-width="1.4"/><path d="M571.6 488.0v5.0" stroke="#000" stroke-width="1.4"/><path d="M585.4 488.0v5.0" stroke="#000" stroke-width="1.4"/><path d="M605.0 488.0v5.0" stroke="#000" stroke-width="1.4"/><path d="M618.9 488.0v5.0" stroke="#000" stroke-width="1.4"/><path d="M638.7 488.0v5.0" stroke="#000" stroke-width="1.4"/><path d="M652.5 488.0v5.0" stroke="#000" stroke-width="1.4"/><text x="516.6" y="507.4" text-anchor="middle" font-size="12.7" fill="#000">CT</text><text x="547.7" y="507.4" text-anchor="middle" font-size="12.7" fill="#000">4h</text><text x="579.1" y="507.4" text-anchor="middle" font-size="12.7" fill="#000">7h</text><text x="612.6" y="507.4" text-anchor="middle" font-size="12.7" fill="#000">24h</text><text x="648.9" y="507.4" text-anchor="middle" font-size="12.7" fill="#000">72h</text><path d="M537.8 384.4V377.9H551.7V384.4" stroke="#000" stroke-width="1.15" fill="none"/><text x="544.9" y="371.9" text-anchor="middle" font-size="9.5" fill="#000">&lt;0.01</text><path d="M571.5 384.4V377.9H585.4V384.4" stroke="#000" stroke-width="1.15" fill="none"/><text x="578.6" y="371.9" text-anchor="middle" font-size="9.5" fill="#000">&lt;0.01</text><path d="M605.3 384.4V377.9H619.1V384.4" stroke="#000" stroke-width="1.15" fill="none"/><text x="612.3" y="371.9" text-anchor="middle" font-size="9.5" fill="#000">&lt;0.01</text></g>
<g><rect x="512.58" y="597.0" width="11.25" height="65.0" fill="#FFFFFF"/><path d="M512.58 597.0V662.0M523.83 597.0V662.0" stroke="#000" stroke-width="1.55" fill="none"/><rect x="512.58" y="587.3" width="11.25" height="0.9" fill="#FFFFFF"/><path d="M512.58 588.2V588.1H523.83V588.2" stroke="#000" stroke-width="1.55" fill="none"/><rect x="532.48" y="597.0" width="11.25" height="65.0" fill="#D4D4D4"/><path d="M532.48 597.0V662.0M543.73 597.0V662.0" stroke="#000" stroke-width="1.55" fill="none"/><rect x="532.48" y="585.0" width="11.25" height="3.2" fill="#D4D4D4"/><path d="M532.48 588.2V585.8H543.73V588.2" stroke="#000" stroke-width="1.55" fill="none"/><rect x="546.38" y="597.0" width="11.25" height="65.0" fill="#5F5F5F"/><path d="M546.38 597.0V662.0M557.63 597.0V662.0" stroke="#000" stroke-width="1.55" fill="none"/><rect x="546.38" y="583.7" width="11.25" height="4.5" fill="#5F5F5F"/><path d="M546.38 588.2V584.5H557.63V588.2" stroke="#000" stroke-width="1.55" fill="none"/><rect x="566.18" y="597.0" width="11.25" height="65.0" fill="#D4D4D4"/><path d="M566.18 597.0V662.0M577.43 597.0V662.0" stroke="#000" stroke-width="1.55" fill="none"/><rect x="566.18" y="581.1" width="11.25" height="7.1" fill="#D4D4D4"/><path d="M566.18 588.2V581.9H577.43V588.2" stroke="#000" stroke-width="1.55" fill="none"/><rect x="580.07" y="597.0" width="11.25" height="65.0" fill="#5F5F5F"/><path d="M580.07 597.0V662.0M591.32 597.0V662.0" stroke="#000" stroke-width="1.55" fill="none"/><rect x="580.07" y="578.1" width="11.25" height="10.1" fill="#5F5F5F"/><path d="M580.07 588.2V578.9H591.32V588.2" stroke="#000" stroke-width="1.55" fill="none"/><rect x="599.98" y="597.0" width="11.25" height="65.0" fill="#D4D4D4"/><path d="M599.98 597.0V662.0M611.23 597.0V662.0" stroke="#000" stroke-width="1.55" fill="none"/><rect x="599.98" y="581.1" width="11.25" height="7.1" fill="#D4D4D4"/><path d="M599.98 588.2V581.9H611.23V588.2" stroke="#000" stroke-width="1.55" fill="none"/><rect x="613.77" y="597.0" width="11.25" height="65.0" fill="#5F5F5F"/><path d="M613.77 597.0V662.0M625.02 597.0V662.0" stroke="#000" stroke-width="1.55" fill="none"/><rect x="613.77" y="562.8" width="11.25" height="25.4" fill="#5F5F5F"/><path d="M613.77 588.2V563.6H625.02V588.2" stroke="#000" stroke-width="1.55" fill="none"/><rect x="633.67" y="615.2" width="11.25" height="46.8" fill="#D4D4D4" stroke="#000" stroke-width="1.55"/><rect x="647.67" y="597.0" width="11.25" height="65.0" fill="#5F5F5F"/><path d="M647.67 597.0V662.0M658.92 597.0V662.0" stroke="#000" stroke-width="1.55" fill="none"/><rect x="647.67" y="558.2" width="11.25" height="30.0" fill="#5F5F5F"/><path d="M647.67 588.2V559.0H658.92V588.2" stroke="#000" stroke-width="1.55" fill="none"/><path d="M518.2 587.3V584.5M514.9 584.5H521.5" stroke="#000" stroke-width="0.9" fill="none"/><path d="M619.4 562.8V559.8M616.1 559.8H622.7" stroke="#000" stroke-width="0.9" fill="none"/><path d="M639.3 614.4V598.7M636.0 598.7H642.6" stroke="#000" stroke-width="0.9" fill="none"/><path d="M653.3 558.2V549.1M650.0 549.1H656.6" stroke="#000" stroke-width="0.9" fill="none"/><circle cx="514.0" cy="587.7" r="2.25" fill="#000"/><circle cx="522.4" cy="583.7" r="2.25" fill="#000"/><circle cx="518.2" cy="604.4" r="2.25" fill="#000"/><circle cx="518.2" cy="620.1" r="2.25" fill="#000"/><rect x="531.7" y="584.6" width="4.4" height="4.4" fill="#000"/><rect x="535.5" y="582.0" width="4.4" height="4.4" fill="#000"/><rect x="539.3" y="582.8" width="4.4" height="4.4" fill="#000"/><path d="M545.0 581.6H550.2L547.6 586.1Z" fill="#000"/><path d="M548.8 581.0H554.0L551.4 585.5Z" fill="#000"/><path d="M553.1 581.6H558.3L555.7 586.1Z" fill="#000"/><rect x="565.3" y="580.5" width="4.4" height="4.4" fill="#000"/><rect x="569.1" y="577.4" width="4.4" height="4.4" fill="#000"/><rect x="573.7" y="578.2" width="4.4" height="4.4" fill="#000"/><path d="M581.7 574.6H586.9L584.3 579.1Z" fill="#000"/><path d="M587.0 575.6H592.2L589.6 580.1Z" fill="#000"/><path d="M578.4 576.0H583.6L581.0 580.5Z" fill="#000"/><rect x="599.3" y="578.2" width="4.4" height="4.4" fill="#000"/><rect x="603.1" y="575.9" width="4.4" height="4.4" fill="#000"/><rect x="607.2" y="576.7" width="4.4" height="4.4" fill="#000"/><path d="M617.2 559.3H622.4L619.8 563.8Z" fill="#000"/><path d="M621.3 555.8H626.5L623.9 560.3Z" fill="#000"/><path d="M612.9 563.1H618.1L615.5 567.6Z" fill="#000"/><path d="M621.3 561.6H626.5L623.9 566.1Z" fill="#000"/><circle cx="635.4" cy="603.6" r="2.25" fill="#000"/><circle cx="643.8" cy="600.2" r="2.25" fill="#000"/><circle cx="639.7" cy="618.2" r="2.25" fill="#000"/><circle cx="639.7" cy="634.6" r="2.25" fill="#000"/><rect x="646.9" y="548.1" width="4.4" height="4.4" fill="#000"/><rect x="655.6" y="546.9" width="4.4" height="4.4" fill="#000"/><rect x="655.6" y="560.6" width="4.4" height="4.4" fill="#000"/><rect x="647.7" y="564.9" width="4.4" height="4.4" fill="#000"/><path d="M505.0 544.8V588.2M501.8 588.2H508.2" stroke="#000" stroke-width="1.35" fill="none"/><path d="M505.0 597.0V662.0M501.8 597.0H508.2" stroke="#000" stroke-width="1.35" fill="none"/><path d="M499.8 544.8H505.0" stroke="#000" stroke-width="1.35"/><path d="M499.8 560.1H505.0" stroke="#000" stroke-width="1.35"/><path d="M499.8 575.3H505.0" stroke="#000" stroke-width="1.35"/><path d="M499.8 618.6H505.0" stroke="#000" stroke-width="1.35"/><path d="M499.8 640.3H505.0" stroke="#000" stroke-width="1.35"/><path d="M499.8 662.0H505.0" stroke="#000" stroke-width="1.35"/><path d="M504.5 662.0H667.1" stroke="#000" stroke-width="1.5"/><path d="M518.2 662.0v5.0" stroke="#000" stroke-width="1.4"/><path d="M537.9 662.0v5.0" stroke="#000" stroke-width="1.4"/><path d="M551.8 662.0v5.0" stroke="#000" stroke-width="1.4"/><path d="M571.6 662.0v5.0" stroke="#000" stroke-width="1.4"/><path d="M585.4 662.0v5.0" stroke="#000" stroke-width="1.4"/><path d="M605.0 662.0v5.0" stroke="#000" stroke-width="1.4"/><path d="M618.9 662.0v5.0" stroke="#000" stroke-width="1.4"/><path d="M638.7 662.0v5.0" stroke="#000" stroke-width="1.4"/><path d="M652.5 662.0v5.0" stroke="#000" stroke-width="1.4"/><text x="516.6" y="682.4" text-anchor="middle" font-size="12.7" fill="#000">CT</text><text x="547.7" y="682.4" text-anchor="middle" font-size="12.7" fill="#000">4h</text><text x="579.1" y="682.4" text-anchor="middle" font-size="12.7" fill="#000">7h</text><text x="612.6" y="682.4" text-anchor="middle" font-size="12.7" fill="#000">24h</text><text x="648.9" y="682.4" text-anchor="middle" font-size="12.7" fill="#000">72h</text><path d="M605.3 541.4V534.9H619.1V541.4" stroke="#000" stroke-width="1.15" fill="none"/><text x="612.3" y="528.9" text-anchor="middle" font-size="9.5" fill="#000">&lt;0.01</text><path d="M639.0 541.4V534.9H653.0V541.4" stroke="#000" stroke-width="1.15" fill="none"/><text x="646.1" y="528.9" text-anchor="middle" font-size="9.5" fill="#000">0.02</text></g>
<g><rect x="512.58" y="761.4" width="11.25" height="65.2" fill="#FFFFFF"/><path d="M512.58 761.4V826.6M523.83 761.4V826.6" stroke="#000" stroke-width="1.55" fill="none"/><rect x="512.58" y="751.5" width="11.25" height="0.9" fill="#FFFFFF"/><path d="M512.58 752.4V752.3H523.83V752.4" stroke="#000" stroke-width="1.55" fill="none"/><rect x="532.48" y="761.4" width="11.25" height="65.2" fill="#D4D4D4"/><path d="M532.48 761.4V826.6M543.73 761.4V826.6" stroke="#000" stroke-width="1.55" fill="none"/><rect x="532.48" y="750.5" width="11.25" height="1.9" fill="#D4D4D4"/><path d="M532.48 752.4V751.3H543.73V752.4" stroke="#000" stroke-width="1.55" fill="none"/><rect x="546.38" y="761.4" width="11.25" height="65.2" fill="#5F5F5F"/><path d="M546.38 761.4V826.6M557.63 761.4V826.6" stroke="#000" stroke-width="1.55" fill="none"/><rect x="546.38" y="748.7" width="11.25" height="3.7" fill="#5F5F5F"/><path d="M546.38 752.4V749.5H557.63V752.4" stroke="#000" stroke-width="1.55" fill="none"/><rect x="566.18" y="761.4" width="11.25" height="65.2" fill="#D4D4D4"/><path d="M566.18 761.4V826.6M577.43 761.4V826.6" stroke="#000" stroke-width="1.55" fill="none"/><rect x="566.18" y="747.7" width="11.25" height="4.7" fill="#D4D4D4"/><path d="M566.18 752.4V748.5H577.43V752.4" stroke="#000" stroke-width="1.55" fill="none"/><rect x="580.07" y="761.4" width="11.25" height="65.2" fill="#5F5F5F"/><path d="M580.07 761.4V826.6M591.32 761.4V826.6" stroke="#000" stroke-width="1.55" fill="none"/><rect x="580.07" y="746.6" width="11.25" height="5.8" fill="#5F5F5F"/><path d="M580.07 752.4V747.4H591.32V752.4" stroke="#000" stroke-width="1.55" fill="none"/><rect x="599.98" y="761.4" width="11.25" height="65.2" fill="#D4D4D4"/><path d="M599.98 761.4V826.6M611.23 761.4V826.6" stroke="#000" stroke-width="1.55" fill="none"/><rect x="599.98" y="747.7" width="11.25" height="4.7" fill="#D4D4D4"/><path d="M599.98 752.4V748.5H611.23V752.4" stroke="#000" stroke-width="1.55" fill="none"/><rect x="613.77" y="761.4" width="11.25" height="65.2" fill="#5F5F5F"/><path d="M613.77 761.4V826.6M625.02 761.4V826.6" stroke="#000" stroke-width="1.55" fill="none"/><rect x="613.77" y="740.0" width="11.25" height="12.4" fill="#5F5F5F"/><path d="M613.77 752.4V740.8H625.02V752.4" stroke="#000" stroke-width="1.55" fill="none"/><rect x="633.67" y="761.4" width="11.25" height="65.2" fill="#D4D4D4"/><path d="M633.67 761.4V826.6M644.92 761.4V826.6" stroke="#000" stroke-width="1.55" fill="none"/><rect x="633.67" y="752.0" width="11.25" height="0.4" fill="#D4D4D4"/><path d="M633.67 752.4V752.8H644.92V752.4" stroke="#000" stroke-width="1.55" fill="none"/><rect x="647.67" y="761.4" width="11.25" height="65.2" fill="#5F5F5F"/><path d="M647.67 761.4V826.6M658.92 761.4V826.6" stroke="#000" stroke-width="1.55" fill="none"/><rect x="647.67" y="731.6" width="11.25" height="20.8" fill="#5F5F5F"/><path d="M647.67 752.4V732.4H658.92V752.4" stroke="#000" stroke-width="1.55" fill="none"/><circle cx="513.3" cy="752.7" r="2.25" fill="#000"/><circle cx="517.8" cy="750.7" r="2.25" fill="#000"/><circle cx="522.4" cy="751.2" r="2.25" fill="#000"/><rect x="531.7" y="749.3" width="4.4" height="4.4" fill="#000"/><rect x="535.7" y="747.8" width="4.4" height="4.4" fill="#000"/><rect x="539.7" y="748.3" width="4.4" height="4.4" fill="#000"/><path d="M545.0 747.2H550.2L547.6 751.7Z" fill="#000"/><path d="M549.0 746.8H554.2L551.6 751.3Z" fill="#000"/><path d="M553.1 747.2H558.3L555.7 751.7Z" fill="#000"/><rect x="565.3" y="747.0" width="4.4" height="4.4" fill="#000"/><rect x="569.3" y="745.8" width="4.4" height="4.4" fill="#000"/><rect x="573.4" y="746.3" width="4.4" height="4.4" fill="#000"/><path d="M581.7 742.6H586.9L584.3 747.1Z" fill="#000"/><path d="M578.9 745.5H584.1L581.5 750.0Z" fill="#000"/><path d="M586.4 745.3H591.6L589.0 749.8Z" fill="#000"/><rect x="599.3" y="745.8" width="4.4" height="4.4" fill="#000"/><rect x="603.1" y="745.0" width="4.4" height="4.4" fill="#000"/><rect x="607.2" y="745.5" width="4.4" height="4.4" fill="#000"/><path d="M615.2 736.5H620.4L617.8 741.0Z" fill="#000"/><path d="M619.8 736.0H625.0L622.4 740.5Z" fill="#000"/><path d="M612.2 738.0H617.4L614.8 742.5Z" fill="#000"/><circle cx="634.6" cy="752.7" r="2.25" fill="#000"/><circle cx="638.4" cy="750.7" r="2.25" fill="#000"/><circle cx="642.7" cy="751.8" r="2.25" fill="#000"/><rect x="647.7" y="729.4" width="4.4" height="4.4" fill="#000"/><rect x="651.5" y="727.9" width="4.4" height="4.4" fill="#000"/><rect x="655.3" y="729.1" width="4.4" height="4.4" fill="#000"/><path d="M505.0 709.0V752.4M501.8 752.4H508.2" stroke="#000" stroke-width="1.35" fill="none"/><path d="M505.0 761.4V826.6M501.8 761.4H508.2" stroke="#000" stroke-width="1.35" fill="none"/><path d="M499.8 709.0H505.0" stroke="#000" stroke-width="1.35"/><path d="M499.8 720.6H505.0" stroke="#000" stroke-width="1.35"/><path d="M499.8 732.1H505.0" stroke="#000" stroke-width="1.35"/><path d="M499.8 743.3H505.0" stroke="#000" stroke-width="1.35"/><path d="M499.8 793.9H505.0" stroke="#000" stroke-width="1.35"/><path d="M499.8 826.6H505.0" stroke="#000" stroke-width="1.35"/><path d="M504.5 826.6H667.1" stroke="#000" stroke-width="1.5"/><path d="M518.2 826.6v5.0" stroke="#000" stroke-width="1.4"/><path d="M537.9 826.6v5.0" stroke="#000" stroke-width="1.4"/><path d="M551.8 826.6v5.0" stroke="#000" stroke-width="1.4"/><path d="M571.6 826.6v5.0" stroke="#000" stroke-width="1.4"/><path d="M585.4 826.6v5.0" stroke="#000" stroke-width="1.4"/><path d="M605.0 826.6v5.0" stroke="#000" stroke-width="1.4"/><path d="M618.9 826.6v5.0" stroke="#000" stroke-width="1.4"/><path d="M638.7 826.6v5.0" stroke="#000" stroke-width="1.4"/><path d="M652.5 826.6v5.0" stroke="#000" stroke-width="1.4"/><text x="516.6" y="846.1" text-anchor="middle" font-size="12.7" fill="#000">CT</text><text x="547.7" y="846.1" text-anchor="middle" font-size="12.7" fill="#000">4h</text><text x="579.1" y="846.1" text-anchor="middle" font-size="12.7" fill="#000">7h</text><text x="612.6" y="846.1" text-anchor="middle" font-size="12.7" fill="#000">24h</text><text x="648.9" y="846.1" text-anchor="middle" font-size="12.7" fill="#000">72h</text><path d="M605.3 722.9V716.4H619.1V722.9" stroke="#000" stroke-width="1.15" fill="none"/><text x="612.3" y="710.4" text-anchor="middle" font-size="9.5" fill="#000">&lt;0.01</text><path d="M639.0 722.9V716.4H653.0V722.9" stroke="#000" stroke-width="1.15" fill="none"/><text x="646.1" y="710.4" text-anchor="middle" font-size="9.5" fill="#000">&lt;0.01</text></g>
<text transform="translate(54.2,115.5) rotate(-90)" text-anchor="middle" font-size="17.4" font-style="italic" fill="#000">Mt1</text>
<text transform="translate(54.2,274.3) rotate(-90)" text-anchor="middle" font-size="17.4" font-style="italic" fill="#000">Mt2</text>
<text transform="translate(54.2,434.5) rotate(-90)" text-anchor="middle" font-size="17.4" font-style="italic" fill="#000">Saa3</text>
<text transform="translate(54.2,609.1) rotate(-90)" text-anchor="middle" font-size="17.4" font-style="italic" fill="#000">Hp</text>
<text transform="translate(54.2,772.8) rotate(-90)" text-anchor="middle" font-size="17.4" font-style="italic" fill="#000">C3</text>
</svg>
</body></html>
